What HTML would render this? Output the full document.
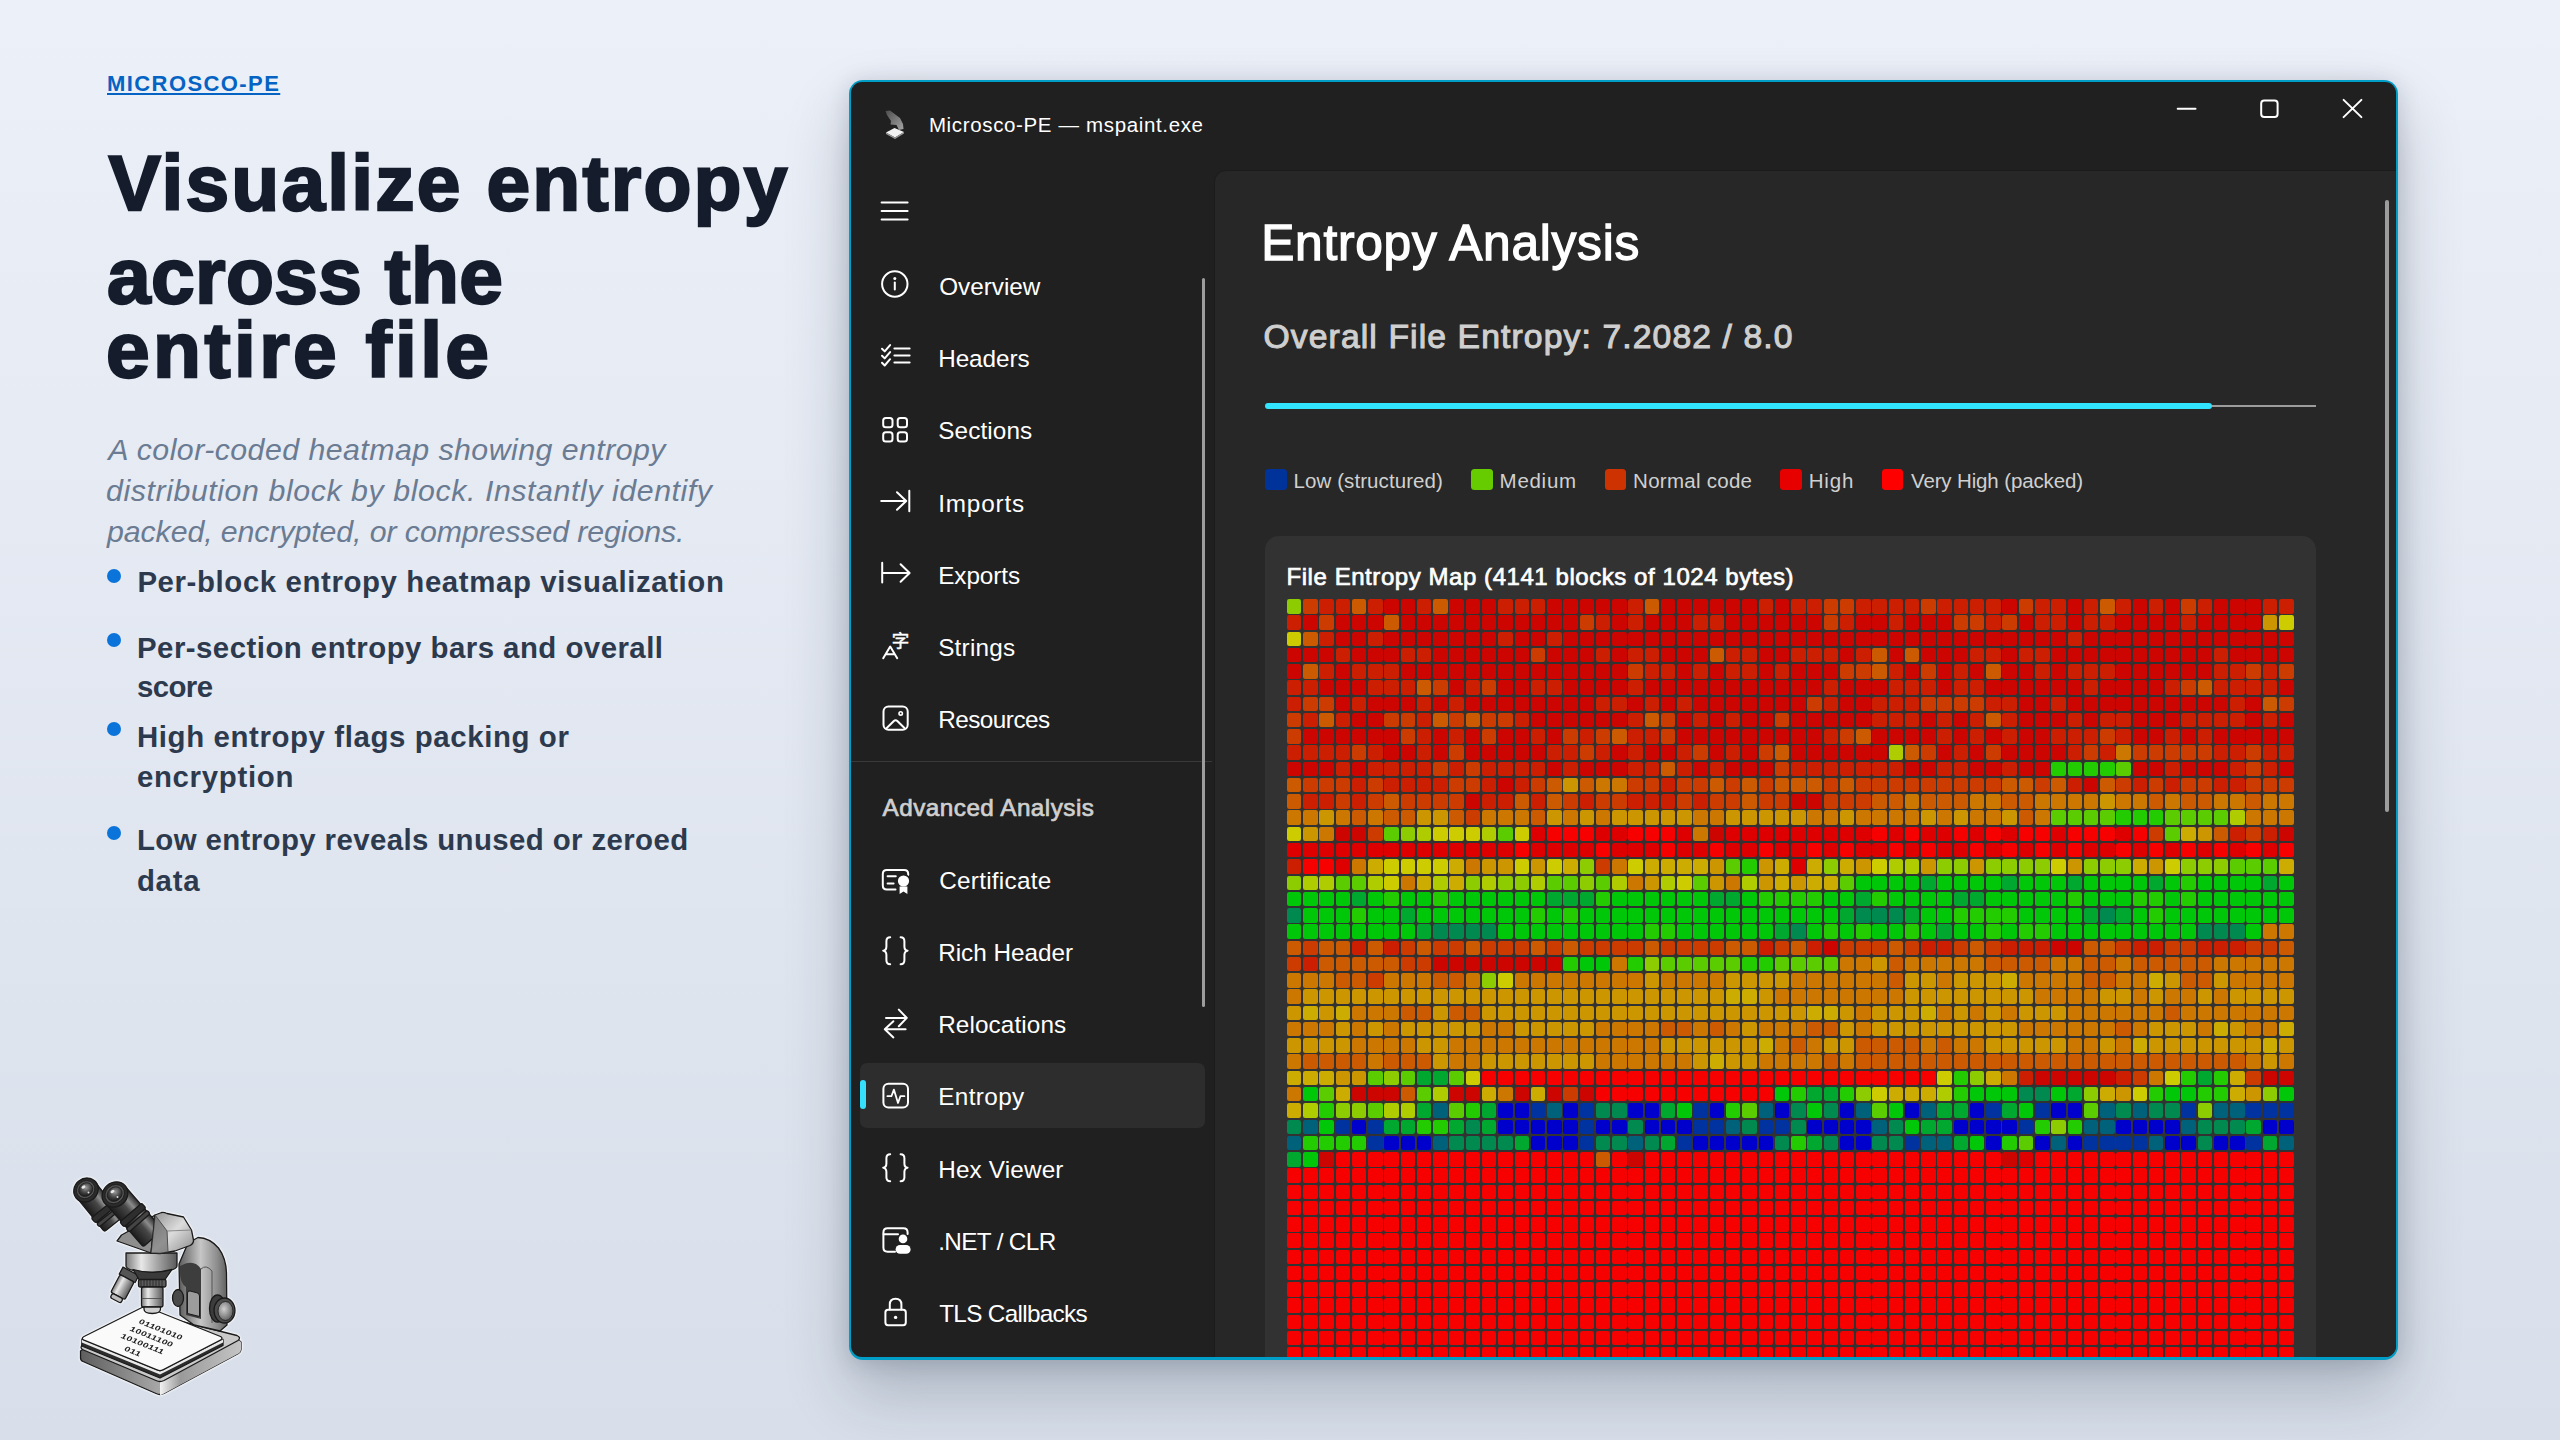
<!DOCTYPE html>
<html lang="en"><head><meta charset="utf-8"><title>Microsco-PE</title>
<style>
*{margin:0;padding:0;box-sizing:border-box}
html,body{width:2560px;height:1440px;overflow:hidden}
body{position:relative;font-family:"Liberation Sans",sans-serif;background:linear-gradient(180deg,#ecf0f8 0%,#d8dfea 100%)}
.t{position:absolute;white-space:nowrap}
.dot{position:absolute;width:14px;height:14px;border-radius:50%;background:#0a74da;left:106.7px}
#win{position:absolute;left:848.7px;top:79.8px;width:1549.5px;height:1280.3px;border-radius:14px;background:#009dc6;
 box-shadow:0 32px 64px rgba(25,38,58,.24),0 3px 22px rgba(25,38,58,.17)}
#wini{position:absolute;left:2.7px;top:2.7px;right:2.7px;bottom:2.7px;border-radius:11px;background:#202020;overflow:hidden}
#content{position:absolute;left:362.3px;top:87.5px;right:-20px;bottom:-20px;background:#272727;border:1px solid #1c1c1c;border-radius:12px 0 0 0}
#card{position:absolute;left:1265.2px;top:536.4px;width:1050.4px;height:900px;background:#323232;border-radius:14px}
#heat{position:absolute;left:1286.8px;top:599px;width:1010px;display:grid;grid-template-columns:repeat(62,14.5px);grid-auto-rows:14.5px;column-gap:1.77px;row-gap:1.77px}
#heat i{display:block;border-radius:2.2px}
#heat .hd{background:#cc0500}#heat .hr{background:#cc1e00}#heat .ho{background:#cc3c00}#heat .hO{background:#cc5a00}#heat .ha{background:#cc7800}#heat .hA{background:#cc9600}#heat .hZ{background:#ccac00}#heat .hY{background:#cccc00}#heat .hy{background:#afcc00}#heat .hL{background:#8ccc00}#heat .hl{background:#5acc00}#heat .hg{background:#23cc00}#heat .hG{background:#00c808}#heat .ht{background:#00a830}#heat .hT{background:#008a50}#heat .hc{background:#00627a}#heat .hb{background:#0032a0}#heat .hB{background:#0000cc}#heat .he{background:#de0000}#heat .hR{background:#f60000}
#clip{position:absolute;left:851.7px;top:82.8px;width:1543.5px;height:1274.3px;border-radius:11px;overflow:hidden}
.sw{position:absolute;top:469.3px;width:21.5px;height:21.2px;border-radius:3.5px}
.sel{position:absolute;left:859.5px;top:1062.9px;width:345px;height:64.9px;border-radius:7px;background:#2d2d2d}
.pill{position:absolute;left:859.7px;top:1080.4px;width:6px;height:29px;border-radius:3px;background:#35e0fc}
.sep{position:absolute;left:851px;top:760.5px;width:361px;height:1.6px;background:#393939}
.sb{position:absolute;width:3.4px;border-radius:2px;background:#9c9c9c}
.ic{position:absolute;left:879px;width:32px;height:32px;overflow:visible}
.ic *{vector-effect:none}
</style></head><body>
<div class="dot" style="top:569px"></div><div class="dot" style="top:633px"></div><div class="dot" style="top:722px"></div><div class="dot" style="top:826px"></div>
<div id="win"><div id="wini"><div id="content"></div></div></div>
<div class="sel"></div><div class="pill"></div><div class="sep"></div>
<div class="sb" style="left:1202px;top:278px;height:729px"></div>
<div class="sb" style="left:2385.4px;top:200.4px;height:612px"></div>
<div style="position:absolute;left:1265.2px;top:402.6px;width:947px;height:6.2px;border-radius:3.1px;background:#31e4ff"></div>
<div style="position:absolute;left:2212px;top:404.6px;width:103.7px;height:2px;background:#9c9c9c"></div>
<div class="sw" style="left:1265.2px;background:#003399"></div>
<div class="sw" style="left:1471px;background:#66cc00"></div>
<div class="sw" style="left:1604.6px;background:#cc3300"></div>
<div class="sw" style="left:1780.4px;background:#e60000"></div>
<div class="sw" style="left:1881.7px;background:#ff0000"></div>
<div id="clip"><div style="position:absolute;left:-851.7px;top:-82.8px;width:2560px;height:1440px"><div id="card"></div>
<div id="heat">
<i class="hL"></i><i class="ho"></i><i class="hr"></i><i class="hr"></i><i class="hO"></i><i class="hr"></i><i class="hd"></i><i class="hd"></i><i class="hr"></i><i class="hO"></i><i class="hd"></i><i class="hd"></i><i class="hd"></i><i class="hr"></i><i class="hr"></i><i class="hr"></i><i class="hd"></i><i class="hd"></i><i class="hd"></i><i class="hd"></i><i class="hd"></i><i class="hr"></i><i class="hO"></i><i class="hd"></i><i class="hd"></i><i class="hd"></i><i class="hd"></i><i class="hd"></i><i class="hd"></i><i class="hr"></i><i class="hd"></i><i class="hr"></i><i class="hr"></i><i class="ho"></i><i class="ho"></i><i class="hr"></i><i class="hr"></i><i class="hr"></i><i class="hr"></i><i class="ho"></i><i class="hr"></i><i class="hr"></i><i class="hr"></i><i class="hr"></i><i class="hd"></i><i class="ho"></i><i class="hr"></i><i class="hr"></i><i class="hd"></i><i class="hr"></i><i class="hO"></i><i class="hr"></i><i class="hd"></i><i class="hr"></i><i class="hd"></i><i class="ho"></i><i class="hr"></i><i class="hd"></i><i class="hd"></i><i class="hd"></i><i class="hr"></i><i class="hr"></i>
<i class="hr"></i><i class="hd"></i><i class="ho"></i><i class="hd"></i><i class="hd"></i><i class="hd"></i><i class="hO"></i><i class="hd"></i><i class="hd"></i><i class="hd"></i><i class="hd"></i><i class="hd"></i><i class="hd"></i><i class="hd"></i><i class="hd"></i><i class="hd"></i><i class="hd"></i><i class="hd"></i><i class="ho"></i><i class="hr"></i><i class="hd"></i><i class="hr"></i><i class="hd"></i><i class="hd"></i><i class="hd"></i><i class="hr"></i><i class="hr"></i><i class="hd"></i><i class="hd"></i><i class="hd"></i><i class="hd"></i><i class="hd"></i><i class="hd"></i><i class="ho"></i><i class="hr"></i><i class="hd"></i><i class="hd"></i><i class="hr"></i><i class="hd"></i><i class="hd"></i><i class="hd"></i><i class="ho"></i><i class="ho"></i><i class="hr"></i><i class="ho"></i><i class="hd"></i><i class="hr"></i><i class="hr"></i><i class="hd"></i><i class="hr"></i><i class="hr"></i><i class="hd"></i><i class="hd"></i><i class="hd"></i><i class="hd"></i><i class="hr"></i><i class="hd"></i><i class="hd"></i><i class="hd"></i><i class="hd"></i><i class="hA"></i><i class="hY"></i>
<i class="hY"></i><i class="hO"></i><i class="hr"></i><i class="hd"></i><i class="hd"></i><i class="hr"></i><i class="hd"></i><i class="hd"></i><i class="hd"></i><i class="hd"></i><i class="hd"></i><i class="hd"></i><i class="hd"></i><i class="hr"></i><i class="hd"></i><i class="hd"></i><i class="hr"></i><i class="hd"></i><i class="hd"></i><i class="hd"></i><i class="hd"></i><i class="hd"></i><i class="hd"></i><i class="hd"></i><i class="hd"></i><i class="hd"></i><i class="hd"></i><i class="hd"></i><i class="hd"></i><i class="hd"></i><i class="hd"></i><i class="hd"></i><i class="hd"></i><i class="hd"></i><i class="hd"></i><i class="hd"></i><i class="hd"></i><i class="hd"></i><i class="hd"></i><i class="hd"></i><i class="hd"></i><i class="hd"></i><i class="hd"></i><i class="hd"></i><i class="hd"></i><i class="hd"></i><i class="hd"></i><i class="hd"></i><i class="hr"></i><i class="hd"></i><i class="hd"></i><i class="hd"></i><i class="hd"></i><i class="hd"></i><i class="hd"></i><i class="hd"></i><i class="hd"></i><i class="hd"></i><i class="hd"></i><i class="hd"></i><i class="hd"></i><i class="hd"></i>
<i class="hd"></i><i class="hd"></i><i class="hd"></i><i class="hr"></i><i class="hd"></i><i class="hd"></i><i class="hd"></i><i class="hr"></i><i class="hr"></i><i class="hd"></i><i class="hd"></i><i class="hd"></i><i class="hd"></i><i class="hd"></i><i class="hd"></i><i class="ho"></i><i class="hd"></i><i class="hd"></i><i class="hd"></i><i class="hr"></i><i class="hd"></i><i class="hr"></i><i class="hr"></i><i class="hd"></i><i class="hd"></i><i class="hd"></i><i class="hO"></i><i class="hr"></i><i class="hr"></i><i class="hd"></i><i class="hd"></i><i class="hr"></i><i class="hr"></i><i class="hr"></i><i class="hd"></i><i class="hr"></i><i class="hO"></i><i class="hd"></i><i class="hO"></i><i class="hd"></i><i class="hd"></i><i class="hd"></i><i class="hr"></i><i class="hr"></i><i class="hd"></i><i class="hr"></i><i class="hr"></i><i class="hd"></i><i class="hd"></i><i class="hd"></i><i class="hd"></i><i class="hd"></i><i class="hd"></i><i class="hd"></i><i class="hd"></i><i class="hd"></i><i class="hd"></i><i class="hr"></i><i class="hd"></i><i class="hd"></i><i class="hd"></i><i class="hd"></i>
<i class="hd"></i><i class="hO"></i><i class="hr"></i><i class="hd"></i><i class="hr"></i><i class="hr"></i><i class="hr"></i><i class="hd"></i><i class="hd"></i><i class="hd"></i><i class="hd"></i><i class="hd"></i><i class="hd"></i><i class="hd"></i><i class="hd"></i><i class="hd"></i><i class="hd"></i><i class="hd"></i><i class="hd"></i><i class="hd"></i><i class="hd"></i><i class="ho"></i><i class="hr"></i><i class="hr"></i><i class="hd"></i><i class="hr"></i><i class="hd"></i><i class="hr"></i><i class="hr"></i><i class="hd"></i><i class="hr"></i><i class="hd"></i><i class="hd"></i><i class="hd"></i><i class="ho"></i><i class="ho"></i><i class="hO"></i><i class="hr"></i><i class="hd"></i><i class="ho"></i><i class="hd"></i><i class="hr"></i><i class="hd"></i><i class="hO"></i><i class="hd"></i><i class="hd"></i><i class="hr"></i><i class="hd"></i><i class="hr"></i><i class="hr"></i><i class="hr"></i><i class="hd"></i><i class="hd"></i><i class="hd"></i><i class="hd"></i><i class="hd"></i><i class="hd"></i><i class="hr"></i><i class="hr"></i><i class="ho"></i><i class="hr"></i><i class="ho"></i>
<i class="hr"></i><i class="hr"></i><i class="hd"></i><i class="hd"></i><i class="hd"></i><i class="hr"></i><i class="hr"></i><i class="hr"></i><i class="hO"></i><i class="ho"></i><i class="hd"></i><i class="hr"></i><i class="ho"></i><i class="hd"></i><i class="hd"></i><i class="hr"></i><i class="hr"></i><i class="hd"></i><i class="hd"></i><i class="hd"></i><i class="hd"></i><i class="hr"></i><i class="hd"></i><i class="hd"></i><i class="hd"></i><i class="hd"></i><i class="hd"></i><i class="hd"></i><i class="hd"></i><i class="hd"></i><i class="hd"></i><i class="hd"></i><i class="hd"></i><i class="hr"></i><i class="hd"></i><i class="hd"></i><i class="hd"></i><i class="hr"></i><i class="hr"></i><i class="hr"></i><i class="hd"></i><i class="hr"></i><i class="hr"></i><i class="hd"></i><i class="hd"></i><i class="hd"></i><i class="hd"></i><i class="hd"></i><i class="hd"></i><i class="hr"></i><i class="hd"></i><i class="hd"></i><i class="hd"></i><i class="hd"></i><i class="hr"></i><i class="ho"></i><i class="hO"></i><i class="hr"></i><i class="hr"></i><i class="hr"></i><i class="hr"></i><i class="hd"></i>
<i class="hr"></i><i class="ho"></i><i class="ho"></i><i class="hd"></i><i class="hr"></i><i class="hd"></i><i class="hd"></i><i class="hd"></i><i class="hr"></i><i class="hd"></i><i class="hr"></i><i class="hd"></i><i class="hd"></i><i class="hd"></i><i class="hd"></i><i class="hd"></i><i class="hd"></i><i class="hd"></i><i class="hd"></i><i class="hr"></i><i class="hr"></i><i class="hd"></i><i class="hr"></i><i class="hd"></i><i class="hr"></i><i class="hd"></i><i class="hd"></i><i class="hd"></i><i class="hd"></i><i class="hd"></i><i class="hd"></i><i class="hd"></i><i class="ho"></i><i class="hr"></i><i class="hd"></i><i class="hd"></i><i class="hr"></i><i class="hr"></i><i class="hr"></i><i class="ho"></i><i class="ho"></i><i class="ho"></i><i class="ho"></i><i class="hr"></i><i class="hr"></i><i class="hd"></i><i class="hd"></i><i class="hr"></i><i class="hd"></i><i class="hd"></i><i class="hd"></i><i class="hd"></i><i class="hd"></i><i class="hd"></i><i class="hd"></i><i class="hd"></i><i class="hd"></i><i class="hd"></i><i class="hr"></i><i class="hd"></i><i class="hO"></i><i class="ho"></i>
<i class="ho"></i><i class="hr"></i><i class="hO"></i><i class="hr"></i><i class="hd"></i><i class="hd"></i><i class="ho"></i><i class="ho"></i><i class="hr"></i><i class="hO"></i><i class="ho"></i><i class="hO"></i><i class="ho"></i><i class="ho"></i><i class="hr"></i><i class="hd"></i><i class="hd"></i><i class="hd"></i><i class="hd"></i><i class="hd"></i><i class="hd"></i><i class="hr"></i><i class="hO"></i><i class="ho"></i><i class="hd"></i><i class="hr"></i><i class="hd"></i><i class="hr"></i><i class="hd"></i><i class="hd"></i><i class="ho"></i><i class="hd"></i><i class="hd"></i><i class="hd"></i><i class="hd"></i><i class="hd"></i><i class="hr"></i><i class="hr"></i><i class="hr"></i><i class="hd"></i><i class="hr"></i><i class="hd"></i><i class="hr"></i><i class="hO"></i><i class="hr"></i><i class="hd"></i><i class="hd"></i><i class="hd"></i><i class="hr"></i><i class="hd"></i><i class="hr"></i><i class="hr"></i><i class="hd"></i><i class="hd"></i><i class="hd"></i><i class="hr"></i><i class="hr"></i><i class="hr"></i><i class="hr"></i><i class="hd"></i><i class="hr"></i><i class="hd"></i>
<i class="ho"></i><i class="hd"></i><i class="hd"></i><i class="hd"></i><i class="hd"></i><i class="hd"></i><i class="hd"></i><i class="ho"></i><i class="hr"></i><i class="hd"></i><i class="hr"></i><i class="hd"></i><i class="ho"></i><i class="hd"></i><i class="hd"></i><i class="hr"></i><i class="hd"></i><i class="ho"></i><i class="hr"></i><i class="ho"></i><i class="hO"></i><i class="hr"></i><i class="hr"></i><i class="ho"></i><i class="hd"></i><i class="hd"></i><i class="hd"></i><i class="hd"></i><i class="hd"></i><i class="hd"></i><i class="hd"></i><i class="hd"></i><i class="hd"></i><i class="hr"></i><i class="ho"></i><i class="hO"></i><i class="hd"></i><i class="hd"></i><i class="hd"></i><i class="hd"></i><i class="hr"></i><i class="hd"></i><i class="hr"></i><i class="hd"></i><i class="hr"></i><i class="hd"></i><i class="hd"></i><i class="hr"></i><i class="hr"></i><i class="hr"></i><i class="ho"></i><i class="hr"></i><i class="hd"></i><i class="hd"></i><i class="hr"></i><i class="hd"></i><i class="hr"></i><i class="hd"></i><i class="hd"></i><i class="hd"></i><i class="hd"></i><i class="hd"></i>
<i class="hr"></i><i class="hr"></i><i class="hr"></i><i class="hr"></i><i class="ho"></i><i class="hr"></i><i class="hd"></i><i class="hd"></i><i class="hr"></i><i class="hd"></i><i class="ho"></i><i class="hd"></i><i class="hd"></i><i class="hd"></i><i class="hd"></i><i class="hd"></i><i class="hr"></i><i class="hr"></i><i class="ho"></i><i class="hr"></i><i class="hd"></i><i class="hr"></i><i class="hd"></i><i class="hd"></i><i class="hr"></i><i class="ho"></i><i class="hd"></i><i class="hr"></i><i class="hd"></i><i class="ho"></i><i class="hO"></i><i class="hd"></i><i class="hd"></i><i class="hd"></i><i class="hd"></i><i class="hd"></i><i class="hd"></i><i class="hy"></i><i class="hO"></i><i class="ho"></i><i class="hd"></i><i class="hr"></i><i class="hd"></i><i class="ho"></i><i class="hd"></i><i class="hd"></i><i class="hd"></i><i class="hd"></i><i class="hr"></i><i class="ho"></i><i class="hr"></i><i class="ha"></i><i class="ho"></i><i class="ho"></i><i class="ho"></i><i class="ho"></i><i class="ho"></i><i class="hr"></i><i class="hr"></i><i class="ho"></i><i class="hr"></i><i class="hr"></i>
<i class="hd"></i><i class="hd"></i><i class="hd"></i><i class="hr"></i><i class="hd"></i><i class="hr"></i><i class="hr"></i><i class="hr"></i><i class="hr"></i><i class="ho"></i><i class="hr"></i><i class="ho"></i><i class="hr"></i><i class="hr"></i><i class="hr"></i><i class="hr"></i><i class="hd"></i><i class="hr"></i><i class="hd"></i><i class="hd"></i><i class="hd"></i><i class="hr"></i><i class="hr"></i><i class="hO"></i><i class="hr"></i><i class="hd"></i><i class="hr"></i><i class="hd"></i><i class="hd"></i><i class="hd"></i><i class="ho"></i><i class="hr"></i><i class="hr"></i><i class="hr"></i><i class="hr"></i><i class="hr"></i><i class="hr"></i><i class="hr"></i><i class="hd"></i><i class="hd"></i><i class="hr"></i><i class="hr"></i><i class="hd"></i><i class="hd"></i><i class="hr"></i><i class="hd"></i><i class="hd"></i><i class="hg"></i><i class="hg"></i><i class="hg"></i><i class="hg"></i><i class="hl"></i><i class="hd"></i><i class="hd"></i><i class="hr"></i><i class="hd"></i><i class="hd"></i><i class="hd"></i><i class="hr"></i><i class="ho"></i><i class="hr"></i><i class="hd"></i>
<i class="hO"></i><i class="ho"></i><i class="ho"></i><i class="ho"></i><i class="hr"></i><i class="ho"></i><i class="hr"></i><i class="hr"></i><i class="hr"></i><i class="hr"></i><i class="ho"></i><i class="ho"></i><i class="hr"></i><i class="hd"></i><i class="hr"></i><i class="ho"></i><i class="hO"></i><i class="hA"></i><i class="hO"></i><i class="ha"></i><i class="ha"></i><i class="ho"></i><i class="ho"></i><i class="hr"></i><i class="ho"></i><i class="ho"></i><i class="hO"></i><i class="ho"></i><i class="hO"></i><i class="ho"></i><i class="hO"></i><i class="hO"></i><i class="hO"></i><i class="ho"></i><i class="hO"></i><i class="ho"></i><i class="ho"></i><i class="ho"></i><i class="ho"></i><i class="ho"></i><i class="ho"></i><i class="ho"></i><i class="ho"></i><i class="ho"></i><i class="hO"></i><i class="hO"></i><i class="ho"></i><i class="hO"></i><i class="hr"></i><i class="hd"></i><i class="hO"></i><i class="ho"></i><i class="hr"></i><i class="ho"></i><i class="hr"></i><i class="ho"></i><i class="ho"></i><i class="hr"></i><i class="hr"></i><i class="ho"></i><i class="ho"></i><i class="ho"></i>
<i class="hO"></i><i class="hr"></i><i class="hr"></i><i class="ho"></i><i class="hr"></i><i class="ho"></i><i class="hO"></i><i class="ho"></i><i class="ho"></i><i class="ho"></i><i class="ho"></i><i class="hd"></i><i class="hr"></i><i class="hr"></i><i class="hO"></i><i class="hr"></i><i class="hO"></i><i class="ho"></i><i class="hr"></i><i class="ho"></i><i class="ho"></i><i class="hr"></i><i class="hr"></i><i class="hr"></i><i class="ho"></i><i class="hr"></i><i class="ho"></i><i class="ho"></i><i class="hO"></i><i class="ho"></i><i class="ho"></i><i class="hd"></i><i class="hd"></i><i class="ho"></i><i class="ho"></i><i class="ho"></i><i class="hO"></i><i class="hO"></i><i class="ha"></i><i class="hO"></i><i class="hO"></i><i class="hO"></i><i class="ha"></i><i class="ha"></i><i class="hO"></i><i class="hO"></i><i class="ha"></i><i class="ha"></i><i class="ha"></i><i class="ha"></i><i class="hA"></i><i class="ha"></i><i class="ha"></i><i class="hO"></i><i class="ha"></i><i class="hO"></i><i class="hO"></i><i class="ha"></i><i class="ha"></i><i class="hO"></i><i class="ha"></i><i class="ha"></i>
<i class="ha"></i><i class="ha"></i><i class="hA"></i><i class="ha"></i><i class="hO"></i><i class="ha"></i><i class="hO"></i><i class="hO"></i><i class="hA"></i><i class="hA"></i><i class="hO"></i><i class="ho"></i><i class="ha"></i><i class="ha"></i><i class="ha"></i><i class="hO"></i><i class="hA"></i><i class="ha"></i><i class="hA"></i><i class="ha"></i><i class="hA"></i><i class="hA"></i><i class="hA"></i><i class="hA"></i><i class="hA"></i><i class="ha"></i><i class="ha"></i><i class="hA"></i><i class="hA"></i><i class="hA"></i><i class="hA"></i><i class="hA"></i><i class="ha"></i><i class="ha"></i><i class="hA"></i><i class="ha"></i><i class="ha"></i><i class="ha"></i><i class="ha"></i><i class="hA"></i><i class="ha"></i><i class="hA"></i><i class="ha"></i><i class="ha"></i><i class="hA"></i><i class="hO"></i><i class="ha"></i><i class="hl"></i><i class="hl"></i><i class="hl"></i><i class="hl"></i><i class="hg"></i><i class="hg"></i><i class="hg"></i><i class="hl"></i><i class="hl"></i><i class="hl"></i><i class="hl"></i><i class="hy"></i><i class="ha"></i><i class="ha"></i><i class="ha"></i>
<i class="hY"></i><i class="hA"></i><i class="ha"></i><i class="hd"></i><i class="hd"></i><i class="ho"></i><i class="hl"></i><i class="hL"></i><i class="hy"></i><i class="hY"></i><i class="hY"></i><i class="hY"></i><i class="hy"></i><i class="hl"></i><i class="hY"></i><i class="he"></i><i class="hR"></i><i class="hR"></i><i class="hR"></i><i class="he"></i><i class="he"></i><i class="hR"></i><i class="hR"></i><i class="hR"></i><i class="he"></i><i class="ha"></i><i class="hd"></i><i class="he"></i><i class="he"></i><i class="he"></i><i class="he"></i><i class="he"></i><i class="he"></i><i class="he"></i><i class="he"></i><i class="he"></i><i class="hR"></i><i class="he"></i><i class="hR"></i><i class="he"></i><i class="he"></i><i class="hR"></i><i class="he"></i><i class="hR"></i><i class="he"></i><i class="hR"></i><i class="hR"></i><i class="he"></i><i class="hR"></i><i class="hR"></i><i class="hR"></i><i class="he"></i><i class="hR"></i><i class="ho"></i><i class="hl"></i><i class="hZ"></i><i class="hA"></i><i class="hO"></i><i class="hr"></i><i class="ho"></i><i class="hr"></i><i class="hd"></i>
<i class="he"></i><i class="he"></i><i class="he"></i><i class="he"></i><i class="he"></i><i class="he"></i><i class="he"></i><i class="he"></i><i class="he"></i><i class="he"></i><i class="he"></i><i class="he"></i><i class="he"></i><i class="he"></i><i class="hR"></i><i class="he"></i><i class="he"></i><i class="he"></i><i class="he"></i><i class="hR"></i><i class="he"></i><i class="he"></i><i class="he"></i><i class="hR"></i><i class="he"></i><i class="he"></i><i class="hR"></i><i class="he"></i><i class="he"></i><i class="hR"></i><i class="he"></i><i class="he"></i><i class="hR"></i><i class="he"></i><i class="hR"></i><i class="he"></i><i class="he"></i><i class="hR"></i><i class="he"></i><i class="hR"></i><i class="he"></i><i class="he"></i><i class="hR"></i><i class="he"></i><i class="hR"></i><i class="he"></i><i class="hR"></i><i class="he"></i><i class="hR"></i><i class="he"></i><i class="he"></i><i class="hR"></i><i class="he"></i><i class="hR"></i><i class="he"></i><i class="hR"></i><i class="he"></i><i class="hR"></i><i class="he"></i><i class="hR"></i><i class="he"></i><i class="hR"></i>
<i class="hr"></i><i class="hR"></i><i class="hR"></i><i class="he"></i><i class="ha"></i><i class="hZ"></i><i class="hY"></i><i class="hY"></i><i class="hY"></i><i class="hY"></i><i class="hZ"></i><i class="ha"></i><i class="hA"></i><i class="hA"></i><i class="hY"></i><i class="hA"></i><i class="hY"></i><i class="hZ"></i><i class="hL"></i><i class="ho"></i><i class="ha"></i><i class="hY"></i><i class="hZ"></i><i class="hZ"></i><i class="hZ"></i><i class="hZ"></i><i class="hA"></i><i class="hl"></i><i class="hg"></i><i class="hA"></i><i class="hZ"></i><i class="he"></i><i class="hZ"></i><i class="hL"></i><i class="hZ"></i><i class="hA"></i><i class="hY"></i><i class="hy"></i><i class="hy"></i><i class="hA"></i><i class="hL"></i><i class="hL"></i><i class="hA"></i><i class="hL"></i><i class="hL"></i><i class="hL"></i><i class="hL"></i><i class="hY"></i><i class="hA"></i><i class="hL"></i><i class="hL"></i><i class="hL"></i><i class="hZ"></i><i class="hA"></i><i class="hY"></i><i class="hL"></i><i class="hL"></i><i class="hL"></i><i class="hl"></i><i class="hl"></i><i class="hl"></i><i class="hZ"></i>
<i class="hL"></i><i class="hy"></i><i class="hy"></i><i class="hl"></i><i class="hl"></i><i class="hy"></i><i class="hY"></i><i class="ha"></i><i class="hZ"></i><i class="hy"></i><i class="hZ"></i><i class="hL"></i><i class="hy"></i><i class="hL"></i><i class="hL"></i><i class="hy"></i><i class="hl"></i><i class="hl"></i><i class="hL"></i><i class="hl"></i><i class="hy"></i><i class="ha"></i><i class="hA"></i><i class="hy"></i><i class="hY"></i><i class="hl"></i><i class="hA"></i><i class="ha"></i><i class="hy"></i><i class="hA"></i><i class="hZ"></i><i class="hA"></i><i class="hZ"></i><i class="hZ"></i><i class="hl"></i><i class="hG"></i><i class="hG"></i><i class="hG"></i><i class="hG"></i><i class="ht"></i><i class="hG"></i><i class="hG"></i><i class="hG"></i><i class="hG"></i><i class="ht"></i><i class="hG"></i><i class="hG"></i><i class="hG"></i><i class="ht"></i><i class="hG"></i><i class="hG"></i><i class="hG"></i><i class="hG"></i><i class="ht"></i><i class="hG"></i><i class="hg"></i><i class="hG"></i><i class="hG"></i><i class="hG"></i><i class="hG"></i><i class="ht"></i><i class="hG"></i>
<i class="hG"></i><i class="hG"></i><i class="hG"></i><i class="hG"></i><i class="ht"></i><i class="hG"></i><i class="hg"></i><i class="hG"></i><i class="hG"></i><i class="hg"></i><i class="hG"></i><i class="hG"></i><i class="hG"></i><i class="hG"></i><i class="hG"></i><i class="hG"></i><i class="ht"></i><i class="ht"></i><i class="ht"></i><i class="hg"></i><i class="hG"></i><i class="hG"></i><i class="hG"></i><i class="hG"></i><i class="hG"></i><i class="hG"></i><i class="ht"></i><i class="ht"></i><i class="hG"></i><i class="hg"></i><i class="hg"></i><i class="hg"></i><i class="hg"></i><i class="hG"></i><i class="hG"></i><i class="ht"></i><i class="hg"></i><i class="hG"></i><i class="hG"></i><i class="hG"></i><i class="hG"></i><i class="ht"></i><i class="ht"></i><i class="hG"></i><i class="hG"></i><i class="hG"></i><i class="hG"></i><i class="hG"></i><i class="hg"></i><i class="hG"></i><i class="hG"></i><i class="hG"></i><i class="hg"></i><i class="hg"></i><i class="hG"></i><i class="hg"></i><i class="hG"></i><i class="hG"></i><i class="hG"></i><i class="hG"></i><i class="hG"></i><i class="hG"></i>
<i class="hT"></i><i class="hG"></i><i class="hG"></i><i class="hG"></i><i class="hg"></i><i class="hG"></i><i class="hG"></i><i class="ht"></i><i class="hG"></i><i class="hG"></i><i class="hG"></i><i class="hG"></i><i class="hG"></i><i class="hG"></i><i class="hG"></i><i class="hg"></i><i class="hG"></i><i class="hg"></i><i class="hG"></i><i class="hG"></i><i class="hG"></i><i class="hG"></i><i class="hG"></i><i class="hG"></i><i class="hG"></i><i class="hG"></i><i class="hG"></i><i class="hG"></i><i class="hG"></i><i class="hG"></i><i class="hG"></i><i class="hG"></i><i class="hG"></i><i class="hG"></i><i class="ht"></i><i class="hT"></i><i class="hT"></i><i class="hT"></i><i class="ht"></i><i class="hG"></i><i class="hG"></i><i class="hg"></i><i class="hg"></i><i class="hg"></i><i class="hg"></i><i class="hG"></i><i class="hG"></i><i class="hG"></i><i class="hG"></i><i class="ht"></i><i class="hT"></i><i class="ht"></i><i class="hG"></i><i class="hg"></i><i class="hG"></i><i class="hG"></i><i class="hG"></i><i class="hG"></i><i class="hG"></i><i class="hG"></i><i class="hG"></i><i class="hG"></i>
<i class="hG"></i><i class="hG"></i><i class="hG"></i><i class="hG"></i><i class="hG"></i><i class="hG"></i><i class="hG"></i><i class="hG"></i><i class="ht"></i><i class="hT"></i><i class="hT"></i><i class="hT"></i><i class="hT"></i><i class="hG"></i><i class="hG"></i><i class="hG"></i><i class="hG"></i><i class="hG"></i><i class="hG"></i><i class="hG"></i><i class="hG"></i><i class="hG"></i><i class="hg"></i><i class="hg"></i><i class="hG"></i><i class="hG"></i><i class="hG"></i><i class="hG"></i><i class="hG"></i><i class="hG"></i><i class="ht"></i><i class="hT"></i><i class="hG"></i><i class="hg"></i><i class="hG"></i><i class="hg"></i><i class="hG"></i><i class="hG"></i><i class="hg"></i><i class="hG"></i><i class="ht"></i><i class="hG"></i><i class="hG"></i><i class="hg"></i><i class="hG"></i><i class="hg"></i><i class="hg"></i><i class="hG"></i><i class="hG"></i><i class="hG"></i><i class="hG"></i><i class="hG"></i><i class="hG"></i><i class="hG"></i><i class="hG"></i><i class="hG"></i><i class="hT"></i><i class="hT"></i><i class="hT"></i><i class="hG"></i><i class="ha"></i><i class="ha"></i>
<i class="hO"></i><i class="ho"></i><i class="hO"></i><i class="hO"></i><i class="hr"></i><i class="hO"></i><i class="hr"></i><i class="ho"></i><i class="hO"></i><i class="ho"></i><i class="ho"></i><i class="hO"></i><i class="ho"></i><i class="ho"></i><i class="ho"></i><i class="hO"></i><i class="ho"></i><i class="hO"></i><i class="ho"></i><i class="ho"></i><i class="ho"></i><i class="ho"></i><i class="hO"></i><i class="ho"></i><i class="ho"></i><i class="ho"></i><i class="ho"></i><i class="hO"></i><i class="hO"></i><i class="hr"></i><i class="ho"></i><i class="hO"></i><i class="hr"></i><i class="hd"></i><i class="ho"></i><i class="ho"></i><i class="ho"></i><i class="hO"></i><i class="ho"></i><i class="hr"></i><i class="hr"></i><i class="ho"></i><i class="hO"></i><i class="ho"></i><i class="hr"></i><i class="hr"></i><i class="hr"></i><i class="hd"></i><i class="hd"></i><i class="hO"></i><i class="hO"></i><i class="ho"></i><i class="hr"></i><i class="hr"></i><i class="ho"></i><i class="ho"></i><i class="hr"></i><i class="hr"></i><i class="hr"></i><i class="ho"></i><i class="ho"></i><i class="hO"></i>
<i class="ho"></i><i class="hr"></i><i class="hO"></i><i class="hO"></i><i class="hO"></i><i class="hO"></i><i class="hO"></i><i class="ho"></i><i class="ho"></i><i class="hd"></i><i class="hd"></i><i class="hd"></i><i class="hd"></i><i class="hd"></i><i class="hd"></i><i class="hd"></i><i class="hd"></i><i class="hg"></i><i class="hG"></i><i class="hG"></i><i class="ha"></i><i class="hg"></i><i class="hL"></i><i class="hl"></i><i class="hl"></i><i class="hl"></i><i class="hl"></i><i class="hl"></i><i class="hg"></i><i class="hg"></i><i class="hl"></i><i class="hl"></i><i class="hl"></i><i class="hl"></i><i class="ha"></i><i class="ha"></i><i class="hA"></i><i class="hO"></i><i class="ha"></i><i class="ha"></i><i class="ha"></i><i class="ha"></i><i class="ha"></i><i class="hO"></i><i class="hO"></i><i class="hO"></i><i class="hO"></i><i class="ha"></i><i class="ha"></i><i class="hO"></i><i class="hO"></i><i class="ha"></i><i class="hO"></i><i class="hO"></i><i class="hO"></i><i class="hO"></i><i class="hO"></i><i class="ha"></i><i class="ha"></i><i class="ha"></i><i class="ha"></i><i class="ha"></i>
<i class="ha"></i><i class="ha"></i><i class="ha"></i><i class="hO"></i><i class="hO"></i><i class="ho"></i><i class="ha"></i><i class="ha"></i><i class="ha"></i><i class="hO"></i><i class="hO"></i><i class="ha"></i><i class="hL"></i><i class="hY"></i><i class="ha"></i><i class="ha"></i><i class="ha"></i><i class="ha"></i><i class="ha"></i><i class="ha"></i><i class="ha"></i><i class="ha"></i><i class="hA"></i><i class="ha"></i><i class="ha"></i><i class="ha"></i><i class="ha"></i><i class="hA"></i><i class="hA"></i><i class="hA"></i><i class="hA"></i><i class="ha"></i><i class="ha"></i><i class="ha"></i><i class="ha"></i><i class="ha"></i><i class="ha"></i><i class="hO"></i><i class="hA"></i><i class="hA"></i><i class="ha"></i><i class="hA"></i><i class="hA"></i><i class="hA"></i><i class="hZ"></i><i class="ha"></i><i class="ha"></i><i class="ha"></i><i class="ha"></i><i class="hO"></i><i class="hO"></i><i class="ha"></i><i class="ha"></i><i class="hZ"></i><i class="hA"></i><i class="hO"></i><i class="hO"></i><i class="hA"></i><i class="ha"></i><i class="ha"></i><i class="ha"></i><i class="ha"></i>
<i class="ha"></i><i class="hA"></i><i class="hA"></i><i class="hA"></i><i class="hA"></i><i class="hA"></i><i class="hA"></i><i class="hA"></i><i class="hA"></i><i class="hA"></i><i class="hA"></i><i class="hA"></i><i class="hA"></i><i class="hA"></i><i class="hA"></i><i class="hA"></i><i class="hA"></i><i class="hA"></i><i class="hA"></i><i class="hA"></i><i class="hA"></i><i class="hA"></i><i class="hA"></i><i class="hA"></i><i class="hA"></i><i class="hA"></i><i class="hA"></i><i class="hZ"></i><i class="hZ"></i><i class="hA"></i><i class="ha"></i><i class="ha"></i><i class="ha"></i><i class="ha"></i><i class="ha"></i><i class="ha"></i><i class="ha"></i><i class="ha"></i><i class="hA"></i><i class="hA"></i><i class="hA"></i><i class="hA"></i><i class="hA"></i><i class="hA"></i><i class="hA"></i><i class="hA"></i><i class="ha"></i><i class="ha"></i><i class="ha"></i><i class="ha"></i><i class="hA"></i><i class="hA"></i><i class="ha"></i><i class="hA"></i><i class="ha"></i><i class="ha"></i><i class="hA"></i><i class="ha"></i><i class="hA"></i><i class="hA"></i><i class="hA"></i><i class="hA"></i>
<i class="hA"></i><i class="hZ"></i><i class="hA"></i><i class="hZ"></i><i class="ha"></i><i class="ha"></i><i class="ha"></i><i class="hO"></i><i class="hO"></i><i class="hA"></i><i class="hO"></i><i class="hO"></i><i class="hA"></i><i class="hA"></i><i class="hA"></i><i class="hA"></i><i class="hA"></i><i class="hA"></i><i class="hA"></i><i class="hA"></i><i class="hA"></i><i class="hA"></i><i class="hA"></i><i class="hA"></i><i class="hA"></i><i class="hA"></i><i class="hA"></i><i class="hA"></i><i class="hA"></i><i class="hA"></i><i class="hA"></i><i class="hA"></i><i class="hZ"></i><i class="hZ"></i><i class="hA"></i><i class="ha"></i><i class="hA"></i><i class="hA"></i><i class="hA"></i><i class="hZ"></i><i class="ha"></i><i class="hA"></i><i class="ha"></i><i class="hA"></i><i class="ha"></i><i class="hA"></i><i class="hA"></i><i class="hA"></i><i class="ha"></i><i class="ha"></i><i class="ha"></i><i class="ha"></i><i class="ha"></i><i class="ha"></i><i class="hO"></i><i class="ha"></i><i class="ha"></i><i class="ha"></i><i class="ha"></i><i class="ha"></i><i class="ha"></i><i class="ha"></i>
<i class="ha"></i><i class="ha"></i><i class="ha"></i><i class="hA"></i><i class="ha"></i><i class="hA"></i><i class="ha"></i><i class="hA"></i><i class="hA"></i><i class="hA"></i><i class="hA"></i><i class="hA"></i><i class="ha"></i><i class="ha"></i><i class="hA"></i><i class="hA"></i><i class="hA"></i><i class="hA"></i><i class="hA"></i><i class="ha"></i><i class="ha"></i><i class="ha"></i><i class="ha"></i><i class="hO"></i><i class="hO"></i><i class="ha"></i><i class="hO"></i><i class="ha"></i><i class="hA"></i><i class="ha"></i><i class="ha"></i><i class="ha"></i><i class="hO"></i><i class="hO"></i><i class="hA"></i><i class="ha"></i><i class="hA"></i><i class="hA"></i><i class="hA"></i><i class="hA"></i><i class="hA"></i><i class="hA"></i><i class="hA"></i><i class="hA"></i><i class="hA"></i><i class="ha"></i><i class="ha"></i><i class="ha"></i><i class="ha"></i><i class="ha"></i><i class="ha"></i><i class="hO"></i><i class="ha"></i><i class="hA"></i><i class="hA"></i><i class="hA"></i><i class="ha"></i><i class="hZ"></i><i class="hA"></i><i class="ha"></i><i class="ha"></i><i class="hZ"></i>
<i class="hA"></i><i class="hA"></i><i class="hA"></i><i class="hA"></i><i class="ha"></i><i class="ha"></i><i class="ha"></i><i class="ha"></i><i class="hA"></i><i class="hA"></i><i class="ha"></i><i class="ha"></i><i class="ha"></i><i class="ha"></i><i class="ha"></i><i class="ha"></i><i class="ha"></i><i class="ha"></i><i class="ha"></i><i class="ha"></i><i class="ha"></i><i class="ha"></i><i class="ha"></i><i class="hA"></i><i class="hA"></i><i class="hA"></i><i class="hA"></i><i class="hA"></i><i class="hA"></i><i class="hZ"></i><i class="ha"></i><i class="hO"></i><i class="ha"></i><i class="hA"></i><i class="hA"></i><i class="hO"></i><i class="hO"></i><i class="hO"></i><i class="hO"></i><i class="ha"></i><i class="hO"></i><i class="ha"></i><i class="ha"></i><i class="hA"></i><i class="hA"></i><i class="hA"></i><i class="hA"></i><i class="hA"></i><i class="ha"></i><i class="ha"></i><i class="hA"></i><i class="ha"></i><i class="hZ"></i><i class="hA"></i><i class="hA"></i><i class="hA"></i><i class="hA"></i><i class="hA"></i><i class="hA"></i><i class="hA"></i><i class="hZ"></i><i class="hA"></i>
<i class="ha"></i><i class="hO"></i><i class="hO"></i><i class="hO"></i><i class="hO"></i><i class="ha"></i><i class="hO"></i><i class="hO"></i><i class="hO"></i><i class="hA"></i><i class="ha"></i><i class="ha"></i><i class="hA"></i><i class="hA"></i><i class="hA"></i><i class="hA"></i><i class="hA"></i><i class="hA"></i><i class="hA"></i><i class="ha"></i><i class="ha"></i><i class="ha"></i><i class="ha"></i><i class="ha"></i><i class="ha"></i><i class="hA"></i><i class="hZ"></i><i class="hA"></i><i class="hA"></i><i class="ha"></i><i class="ha"></i><i class="ha"></i><i class="ha"></i><i class="hO"></i><i class="ha"></i><i class="hO"></i><i class="hO"></i><i class="hO"></i><i class="hO"></i><i class="hO"></i><i class="hO"></i><i class="hO"></i><i class="hO"></i><i class="hO"></i><i class="hO"></i><i class="hO"></i><i class="hO"></i><i class="hO"></i><i class="hO"></i><i class="hO"></i><i class="hO"></i><i class="hO"></i><i class="hO"></i><i class="hO"></i><i class="hO"></i><i class="hO"></i><i class="hO"></i><i class="hO"></i><i class="hO"></i><i class="ha"></i><i class="hA"></i><i class="ha"></i>
<i class="hZ"></i><i class="hZ"></i><i class="hZ"></i><i class="hA"></i><i class="hA"></i><i class="hl"></i><i class="hL"></i><i class="hl"></i><i class="ht"></i><i class="ht"></i><i class="hl"></i><i class="hY"></i><i class="hR"></i><i class="hR"></i><i class="hR"></i><i class="hR"></i><i class="hR"></i><i class="hR"></i><i class="hR"></i><i class="hR"></i><i class="hR"></i><i class="hR"></i><i class="hR"></i><i class="hR"></i><i class="hR"></i><i class="hR"></i><i class="hR"></i><i class="hR"></i><i class="hR"></i><i class="hR"></i><i class="hR"></i><i class="hR"></i><i class="hR"></i><i class="hR"></i><i class="hR"></i><i class="hR"></i><i class="hR"></i><i class="hR"></i><i class="hR"></i><i class="hR"></i><i class="hY"></i><i class="hg"></i><i class="hL"></i><i class="hZ"></i><i class="ha"></i><i class="hr"></i><i class="hd"></i><i class="hd"></i><i class="hd"></i><i class="hd"></i><i class="hd"></i><i class="hr"></i><i class="ho"></i><i class="ha"></i><i class="hY"></i><i class="hg"></i><i class="ht"></i><i class="hg"></i><i class="hZ"></i><i class="ho"></i><i class="hd"></i><i class="hd"></i>
<i class="ha"></i><i class="hG"></i><i class="hl"></i><i class="hZ"></i><i class="hd"></i><i class="hd"></i><i class="hd"></i><i class="hO"></i><i class="hl"></i><i class="hy"></i><i class="hd"></i><i class="hd"></i><i class="hZ"></i><i class="ha"></i><i class="hd"></i><i class="hZ"></i><i class="hd"></i><i class="ho"></i><i class="hd"></i><i class="hR"></i><i class="hR"></i><i class="hR"></i><i class="hR"></i><i class="hR"></i><i class="hR"></i><i class="hR"></i><i class="hR"></i><i class="hR"></i><i class="hR"></i><i class="hR"></i><i class="hG"></i><i class="hg"></i><i class="ht"></i><i class="ht"></i><i class="hg"></i><i class="hL"></i><i class="hY"></i><i class="hZ"></i><i class="hZ"></i><i class="hZ"></i><i class="hy"></i><i class="hg"></i><i class="hG"></i><i class="hG"></i><i class="hG"></i><i class="hT"></i><i class="hT"></i><i class="hG"></i><i class="ht"></i><i class="hL"></i><i class="hZ"></i><i class="hA"></i><i class="hY"></i><i class="hg"></i><i class="hG"></i><i class="hG"></i><i class="hg"></i><i class="hg"></i><i class="hZ"></i><i class="hA"></i><i class="hL"></i><i class="hG"></i>
<i class="hZ"></i><i class="hy"></i><i class="hg"></i><i class="hL"></i><i class="hL"></i><i class="hl"></i><i class="hy"></i><i class="hy"></i><i class="ht"></i><i class="hc"></i><i class="hl"></i><i class="hg"></i><i class="ht"></i><i class="hB"></i><i class="hB"></i><i class="hb"></i><i class="hc"></i><i class="hB"></i><i class="hb"></i><i class="hT"></i><i class="hT"></i><i class="hB"></i><i class="hB"></i><i class="ht"></i><i class="hG"></i><i class="hb"></i><i class="hB"></i><i class="hg"></i><i class="hl"></i><i class="hc"></i><i class="hB"></i><i class="hT"></i><i class="hG"></i><i class="hT"></i><i class="hB"></i><i class="hc"></i><i class="hl"></i><i class="hG"></i><i class="hB"></i><i class="hc"></i><i class="ht"></i><i class="ht"></i><i class="hB"></i><i class="hb"></i><i class="ht"></i><i class="hG"></i><i class="hb"></i><i class="hB"></i><i class="hB"></i><i class="hl"></i><i class="hc"></i><i class="hT"></i><i class="hc"></i><i class="hT"></i><i class="hT"></i><i class="hb"></i><i class="hL"></i><i class="hc"></i><i class="hc"></i><i class="hb"></i><i class="hb"></i><i class="hb"></i>
<i class="hT"></i><i class="hc"></i><i class="hG"></i><i class="hb"></i><i class="hB"></i><i class="hb"></i><i class="ht"></i><i class="ht"></i><i class="hg"></i><i class="hg"></i><i class="ht"></i><i class="hT"></i><i class="ht"></i><i class="hB"></i><i class="hB"></i><i class="hB"></i><i class="hB"></i><i class="hB"></i><i class="hb"></i><i class="hB"></i><i class="hB"></i><i class="hT"></i><i class="hB"></i><i class="hB"></i><i class="hB"></i><i class="hb"></i><i class="hb"></i><i class="hc"></i><i class="hT"></i><i class="hb"></i><i class="hb"></i><i class="hT"></i><i class="hB"></i><i class="hB"></i><i class="hB"></i><i class="hB"></i><i class="hc"></i><i class="hT"></i><i class="hG"></i><i class="ht"></i><i class="ht"></i><i class="hB"></i><i class="hB"></i><i class="hB"></i><i class="hB"></i><i class="hb"></i><i class="hg"></i><i class="hL"></i><i class="hg"></i><i class="hc"></i><i class="hc"></i><i class="hB"></i><i class="hB"></i><i class="hB"></i><i class="hB"></i><i class="hc"></i><i class="hT"></i><i class="hT"></i><i class="hT"></i><i class="ht"></i><i class="hB"></i><i class="hB"></i>
<i class="hc"></i><i class="hg"></i><i class="hg"></i><i class="hg"></i><i class="hg"></i><i class="hb"></i><i class="hB"></i><i class="hB"></i><i class="hB"></i><i class="hc"></i><i class="hT"></i><i class="hT"></i><i class="hT"></i><i class="hT"></i><i class="ht"></i><i class="hB"></i><i class="hB"></i><i class="hB"></i><i class="hb"></i><i class="hT"></i><i class="hT"></i><i class="hc"></i><i class="hT"></i><i class="ht"></i><i class="hb"></i><i class="hB"></i><i class="hB"></i><i class="hB"></i><i class="hB"></i><i class="hB"></i><i class="hT"></i><i class="hg"></i><i class="ht"></i><i class="hT"></i><i class="hB"></i><i class="hB"></i><i class="hT"></i><i class="hT"></i><i class="hb"></i><i class="hc"></i><i class="hc"></i><i class="ht"></i><i class="hG"></i><i class="hB"></i><i class="hg"></i><i class="hl"></i><i class="hB"></i><i class="hc"></i><i class="hB"></i><i class="hb"></i><i class="hb"></i><i class="hb"></i><i class="hb"></i><i class="hc"></i><i class="hB"></i><i class="hB"></i><i class="hT"></i><i class="hB"></i><i class="hB"></i><i class="hb"></i><i class="ht"></i><i class="hc"></i>
<i class="ht"></i><i class="hG"></i><i class="hd"></i><i class="hR"></i><i class="hR"></i><i class="hR"></i><i class="hR"></i><i class="hR"></i><i class="hR"></i><i class="hR"></i><i class="hR"></i><i class="hR"></i><i class="hR"></i><i class="hR"></i><i class="hR"></i><i class="hR"></i><i class="hR"></i><i class="hR"></i><i class="hR"></i><i class="hO"></i><i class="hR"></i><i class="hd"></i><i class="hR"></i><i class="hR"></i><i class="hR"></i><i class="hR"></i><i class="hR"></i><i class="hR"></i><i class="hR"></i><i class="hR"></i><i class="hR"></i><i class="hR"></i><i class="hR"></i><i class="hR"></i><i class="hR"></i><i class="hR"></i><i class="hR"></i><i class="hR"></i><i class="hR"></i><i class="hR"></i><i class="hR"></i><i class="hR"></i><i class="hR"></i><i class="hR"></i><i class="hd"></i><i class="he"></i><i class="hR"></i><i class="hR"></i><i class="hR"></i><i class="hR"></i><i class="hR"></i><i class="hR"></i><i class="hR"></i><i class="hR"></i><i class="hR"></i><i class="hR"></i><i class="hR"></i><i class="hR"></i><i class="hR"></i><i class="hR"></i><i class="hR"></i><i class="hR"></i>
<i class="hR"></i><i class="hR"></i><i class="hR"></i><i class="hR"></i><i class="hR"></i><i class="hR"></i><i class="hR"></i><i class="hR"></i><i class="hR"></i><i class="hR"></i><i class="hR"></i><i class="hR"></i><i class="hR"></i><i class="hR"></i><i class="hR"></i><i class="hR"></i><i class="hR"></i><i class="hR"></i><i class="hR"></i><i class="hR"></i><i class="hR"></i><i class="hR"></i><i class="hR"></i><i class="hR"></i><i class="hR"></i><i class="hR"></i><i class="hR"></i><i class="hR"></i><i class="hR"></i><i class="hR"></i><i class="hR"></i><i class="hR"></i><i class="hR"></i><i class="hR"></i><i class="hR"></i><i class="hR"></i><i class="hR"></i><i class="hR"></i><i class="hR"></i><i class="hR"></i><i class="hR"></i><i class="hR"></i><i class="hR"></i><i class="hR"></i><i class="hR"></i><i class="hR"></i><i class="hR"></i><i class="hR"></i><i class="hR"></i><i class="hR"></i><i class="hR"></i><i class="hR"></i><i class="hR"></i><i class="hR"></i><i class="hR"></i><i class="hR"></i><i class="hR"></i><i class="hR"></i><i class="hR"></i><i class="hR"></i><i class="hR"></i><i class="hR"></i>
<i class="hR"></i><i class="hR"></i><i class="hR"></i><i class="hR"></i><i class="hR"></i><i class="hR"></i><i class="hR"></i><i class="hR"></i><i class="hR"></i><i class="hR"></i><i class="hR"></i><i class="hR"></i><i class="hR"></i><i class="hR"></i><i class="hR"></i><i class="hR"></i><i class="hR"></i><i class="hR"></i><i class="hR"></i><i class="hR"></i><i class="hR"></i><i class="hR"></i><i class="hR"></i><i class="hR"></i><i class="hR"></i><i class="hR"></i><i class="hR"></i><i class="hR"></i><i class="hR"></i><i class="hR"></i><i class="hR"></i><i class="hR"></i><i class="hR"></i><i class="hR"></i><i class="hR"></i><i class="hR"></i><i class="hR"></i><i class="hR"></i><i class="hR"></i><i class="hR"></i><i class="hR"></i><i class="hR"></i><i class="hR"></i><i class="hR"></i><i class="hR"></i><i class="hR"></i><i class="hR"></i><i class="hR"></i><i class="hR"></i><i class="hR"></i><i class="hR"></i><i class="hR"></i><i class="hR"></i><i class="hR"></i><i class="hR"></i><i class="hR"></i><i class="hR"></i><i class="hR"></i><i class="hR"></i><i class="hR"></i><i class="hR"></i><i class="hR"></i>
<i class="hR"></i><i class="hR"></i><i class="hR"></i><i class="hR"></i><i class="hR"></i><i class="hR"></i><i class="hR"></i><i class="hR"></i><i class="hR"></i><i class="hR"></i><i class="hR"></i><i class="hR"></i><i class="hR"></i><i class="hR"></i><i class="hR"></i><i class="hR"></i><i class="hR"></i><i class="hR"></i><i class="hR"></i><i class="hR"></i><i class="hR"></i><i class="hR"></i><i class="hR"></i><i class="hR"></i><i class="hR"></i><i class="hR"></i><i class="hR"></i><i class="hR"></i><i class="hR"></i><i class="hR"></i><i class="hR"></i><i class="hR"></i><i class="hR"></i><i class="hR"></i><i class="hR"></i><i class="hR"></i><i class="hR"></i><i class="hR"></i><i class="hR"></i><i class="hR"></i><i class="hR"></i><i class="hR"></i><i class="hR"></i><i class="hR"></i><i class="hR"></i><i class="hR"></i><i class="hR"></i><i class="hR"></i><i class="hR"></i><i class="hR"></i><i class="hR"></i><i class="hR"></i><i class="hR"></i><i class="hR"></i><i class="hR"></i><i class="hR"></i><i class="hR"></i><i class="hR"></i><i class="hR"></i><i class="hR"></i><i class="hR"></i><i class="hR"></i>
<i class="hR"></i><i class="hR"></i><i class="hR"></i><i class="hR"></i><i class="hR"></i><i class="hR"></i><i class="hR"></i><i class="hR"></i><i class="hR"></i><i class="hR"></i><i class="hR"></i><i class="hR"></i><i class="hR"></i><i class="hR"></i><i class="hR"></i><i class="hR"></i><i class="hR"></i><i class="hR"></i><i class="hR"></i><i class="hR"></i><i class="hR"></i><i class="hR"></i><i class="hR"></i><i class="hR"></i><i class="hR"></i><i class="hR"></i><i class="hR"></i><i class="hR"></i><i class="hR"></i><i class="hR"></i><i class="hR"></i><i class="hR"></i><i class="hR"></i><i class="hR"></i><i class="hR"></i><i class="hR"></i><i class="hR"></i><i class="hR"></i><i class="hR"></i><i class="hR"></i><i class="hR"></i><i class="hR"></i><i class="hR"></i><i class="hR"></i><i class="hR"></i><i class="hR"></i><i class="hR"></i><i class="hR"></i><i class="hR"></i><i class="hR"></i><i class="hR"></i><i class="hR"></i><i class="hR"></i><i class="hR"></i><i class="hR"></i><i class="hR"></i><i class="hR"></i><i class="hR"></i><i class="hR"></i><i class="hR"></i><i class="hR"></i><i class="hR"></i>
<i class="hR"></i><i class="hR"></i><i class="hR"></i><i class="hR"></i><i class="hR"></i><i class="hR"></i><i class="hR"></i><i class="hR"></i><i class="hR"></i><i class="hR"></i><i class="hR"></i><i class="hR"></i><i class="hR"></i><i class="hR"></i><i class="hR"></i><i class="hR"></i><i class="hR"></i><i class="hR"></i><i class="hR"></i><i class="hR"></i><i class="hR"></i><i class="hR"></i><i class="hR"></i><i class="hR"></i><i class="hR"></i><i class="hR"></i><i class="hR"></i><i class="hR"></i><i class="hR"></i><i class="hR"></i><i class="hR"></i><i class="hR"></i><i class="hR"></i><i class="hR"></i><i class="hR"></i><i class="hR"></i><i class="hR"></i><i class="hR"></i><i class="hR"></i><i class="hR"></i><i class="hR"></i><i class="hR"></i><i class="hR"></i><i class="hR"></i><i class="hR"></i><i class="hR"></i><i class="hR"></i><i class="hR"></i><i class="hR"></i><i class="hR"></i><i class="hR"></i><i class="hR"></i><i class="hR"></i><i class="hR"></i><i class="hR"></i><i class="hR"></i><i class="hR"></i><i class="hR"></i><i class="hR"></i><i class="hR"></i><i class="hR"></i><i class="hR"></i>
<i class="hR"></i><i class="hR"></i><i class="hR"></i><i class="hR"></i><i class="hR"></i><i class="hR"></i><i class="hR"></i><i class="hR"></i><i class="hR"></i><i class="hR"></i><i class="hR"></i><i class="hR"></i><i class="hR"></i><i class="hR"></i><i class="hR"></i><i class="hR"></i><i class="hR"></i><i class="hR"></i><i class="hR"></i><i class="hR"></i><i class="hR"></i><i class="hR"></i><i class="hR"></i><i class="hR"></i><i class="hR"></i><i class="hR"></i><i class="hR"></i><i class="hR"></i><i class="hR"></i><i class="hR"></i><i class="hR"></i><i class="hR"></i><i class="hR"></i><i class="hR"></i><i class="hR"></i><i class="hR"></i><i class="hR"></i><i class="hR"></i><i class="hR"></i><i class="hR"></i><i class="hR"></i><i class="hR"></i><i class="hR"></i><i class="hR"></i><i class="hR"></i><i class="hR"></i><i class="hR"></i><i class="hR"></i><i class="hR"></i><i class="hR"></i><i class="hR"></i><i class="hR"></i><i class="hR"></i><i class="hR"></i><i class="hR"></i><i class="hR"></i><i class="hR"></i><i class="hR"></i><i class="hR"></i><i class="hR"></i><i class="hR"></i><i class="hR"></i>
<i class="hR"></i><i class="hR"></i><i class="hR"></i><i class="hR"></i><i class="hR"></i><i class="hR"></i><i class="hR"></i><i class="hR"></i><i class="hR"></i><i class="hR"></i><i class="hR"></i><i class="hR"></i><i class="hR"></i><i class="hR"></i><i class="hR"></i><i class="hR"></i><i class="hR"></i><i class="hR"></i><i class="hR"></i><i class="hR"></i><i class="hR"></i><i class="hR"></i><i class="hR"></i><i class="hR"></i><i class="hR"></i><i class="hR"></i><i class="hR"></i><i class="hR"></i><i class="hR"></i><i class="hR"></i><i class="hR"></i><i class="hR"></i><i class="hR"></i><i class="hR"></i><i class="hR"></i><i class="hR"></i><i class="hR"></i><i class="hR"></i><i class="hR"></i><i class="hR"></i><i class="hR"></i><i class="hR"></i><i class="hR"></i><i class="hR"></i><i class="hR"></i><i class="hR"></i><i class="hR"></i><i class="hR"></i><i class="hR"></i><i class="hR"></i><i class="hR"></i><i class="hR"></i><i class="hR"></i><i class="hR"></i><i class="hR"></i><i class="hR"></i><i class="hR"></i><i class="hR"></i><i class="hR"></i><i class="hR"></i><i class="hR"></i><i class="hR"></i>
<i class="hR"></i><i class="hR"></i><i class="hR"></i><i class="hR"></i><i class="hR"></i><i class="hR"></i><i class="hR"></i><i class="hR"></i><i class="hR"></i><i class="hR"></i><i class="hR"></i><i class="hR"></i><i class="hR"></i><i class="hR"></i><i class="hR"></i><i class="hR"></i><i class="hR"></i><i class="hR"></i><i class="hR"></i><i class="hR"></i><i class="hR"></i><i class="hR"></i><i class="hR"></i><i class="hR"></i><i class="hR"></i><i class="hR"></i><i class="hR"></i><i class="hR"></i><i class="hR"></i><i class="hR"></i><i class="hR"></i><i class="hR"></i><i class="hR"></i><i class="hR"></i><i class="hR"></i><i class="hR"></i><i class="hR"></i><i class="hR"></i><i class="hR"></i><i class="hR"></i><i class="hR"></i><i class="hR"></i><i class="hR"></i><i class="hR"></i><i class="hR"></i><i class="hR"></i><i class="hR"></i><i class="hR"></i><i class="hR"></i><i class="hR"></i><i class="hR"></i><i class="hR"></i><i class="hR"></i><i class="hR"></i><i class="hR"></i><i class="hR"></i><i class="hR"></i><i class="hR"></i><i class="hR"></i><i class="hR"></i><i class="hR"></i><i class="hR"></i>
<i class="hR"></i><i class="hR"></i><i class="hR"></i><i class="hR"></i><i class="hR"></i><i class="hR"></i><i class="hR"></i><i class="hR"></i><i class="hR"></i><i class="hR"></i><i class="hR"></i><i class="hR"></i><i class="hR"></i><i class="hR"></i><i class="hR"></i><i class="hR"></i><i class="hR"></i><i class="hR"></i><i class="hR"></i><i class="hR"></i><i class="hR"></i><i class="hR"></i><i class="hR"></i><i class="hR"></i><i class="hR"></i><i class="hR"></i><i class="hR"></i><i class="hR"></i><i class="hR"></i><i class="hR"></i><i class="hR"></i><i class="hR"></i><i class="hR"></i><i class="hR"></i><i class="hR"></i><i class="hR"></i><i class="hR"></i><i class="hR"></i><i class="hR"></i><i class="hR"></i><i class="hR"></i><i class="hR"></i><i class="hR"></i><i class="hR"></i><i class="hR"></i><i class="hR"></i><i class="hR"></i><i class="hR"></i><i class="hR"></i><i class="hR"></i><i class="hR"></i><i class="hR"></i><i class="hR"></i><i class="hR"></i><i class="hR"></i><i class="hR"></i><i class="hR"></i><i class="hR"></i><i class="hR"></i><i class="hR"></i><i class="hR"></i><i class="hR"></i>
<i class="hR"></i><i class="hR"></i><i class="hR"></i><i class="hR"></i><i class="hR"></i><i class="hR"></i><i class="hR"></i><i class="hR"></i><i class="hR"></i><i class="hR"></i><i class="hR"></i><i class="hR"></i><i class="hR"></i><i class="hR"></i><i class="hR"></i><i class="hR"></i><i class="hR"></i><i class="hR"></i><i class="hR"></i><i class="hR"></i><i class="hR"></i><i class="hR"></i><i class="hR"></i><i class="hR"></i><i class="hR"></i><i class="hR"></i><i class="hR"></i><i class="hR"></i><i class="hR"></i><i class="hR"></i><i class="hR"></i><i class="hR"></i><i class="hR"></i><i class="hR"></i><i class="hR"></i><i class="hR"></i><i class="hR"></i><i class="hR"></i><i class="hR"></i><i class="hR"></i><i class="hR"></i><i class="hR"></i><i class="hR"></i><i class="hR"></i><i class="hR"></i><i class="hR"></i><i class="hR"></i><i class="hR"></i><i class="hR"></i><i class="hR"></i><i class="hR"></i><i class="hR"></i><i class="hR"></i><i class="hR"></i><i class="hR"></i><i class="hR"></i><i class="hR"></i><i class="hR"></i><i class="hR"></i><i class="hR"></i><i class="hR"></i><i class="hR"></i>
<i class="hR"></i><i class="hR"></i><i class="hR"></i><i class="hR"></i><i class="hR"></i><i class="hR"></i><i class="hR"></i><i class="hR"></i><i class="hR"></i><i class="hR"></i><i class="hR"></i><i class="hR"></i><i class="hR"></i><i class="hR"></i><i class="hR"></i><i class="hR"></i><i class="hR"></i><i class="hR"></i><i class="hR"></i><i class="hR"></i><i class="hR"></i><i class="hR"></i><i class="hR"></i><i class="hR"></i><i class="hR"></i><i class="hR"></i><i class="hR"></i><i class="hR"></i><i class="hR"></i><i class="hR"></i><i class="hR"></i><i class="hR"></i><i class="hR"></i><i class="hR"></i><i class="hR"></i><i class="hR"></i><i class="hR"></i><i class="hR"></i><i class="hR"></i><i class="hR"></i><i class="hR"></i><i class="hR"></i><i class="hR"></i><i class="hR"></i><i class="hR"></i><i class="hR"></i><i class="hR"></i><i class="hR"></i><i class="hR"></i><i class="hR"></i><i class="hR"></i><i class="hR"></i><i class="hR"></i><i class="hR"></i><i class="hR"></i><i class="hR"></i><i class="hR"></i><i class="hR"></i><i class="hR"></i><i class="hR"></i><i class="hR"></i><i class="hR"></i>
<i class="hR"></i><i class="hR"></i><i class="hR"></i><i class="hR"></i><i class="hR"></i><i class="hR"></i><i class="hR"></i><i class="hR"></i><i class="hR"></i><i class="hR"></i><i class="hR"></i><i class="hR"></i><i class="hR"></i><i class="hR"></i><i class="hR"></i><i class="hR"></i><i class="hR"></i><i class="hR"></i><i class="hR"></i><i class="hR"></i><i class="hR"></i><i class="hR"></i><i class="hR"></i><i class="hR"></i><i class="hR"></i><i class="hR"></i><i class="hR"></i><i class="hR"></i><i class="hR"></i><i class="hR"></i><i class="hR"></i><i class="hR"></i><i class="hR"></i><i class="hR"></i><i class="hR"></i><i class="hR"></i><i class="hR"></i><i class="hR"></i><i class="hR"></i><i class="hR"></i><i class="hR"></i><i class="hR"></i><i class="hR"></i><i class="hR"></i><i class="hR"></i><i class="hR"></i><i class="hR"></i><i class="hR"></i><i class="hR"></i><i class="hR"></i><i class="hR"></i><i class="hR"></i><i class="hR"></i><i class="hR"></i><i class="hR"></i><i class="hR"></i><i class="hR"></i><i class="hR"></i><i class="hR"></i><i class="hR"></i><i class="hR"></i><i class="hR"></i>
</div>
</div></div>
<svg style="position:absolute;left:879px;top:195.3px;width:32px;height:32px" viewBox="0 0 32 32"><path d="M2.6 7.6H28.6M2.6 16H28.6M2.6 24.4H28.6" fill="none" stroke="#fff" stroke-width="2" stroke-linecap="round" stroke-linejoin="round" stroke-width="1.9" stroke-linecap="butt"/></svg>
<svg class="ic" style="top:267.9px" viewBox="0 0 32 32" ><g fill="none" stroke="#fff" stroke-width="2" stroke-linecap="round" stroke-linejoin="round"><circle cx="15.8" cy="16" r="12.7"/><path d="M15.8 14.6V21.6"/></g><circle cx="15.8" cy="10.6" r="1.5" fill="#fff"/></svg>
<svg class="ic" style="top:340.4px" viewBox="0 0 32 32" ><g fill="none" stroke="#fff" stroke-width="2" stroke-linecap="round" stroke-linejoin="round" stroke-width="1.9"><path d="M15.4 8.4H30.6"/><path d="M3 8.7l2.7 2.7l5.4 -6.3"/><path d="M15.4 15.4H30.6"/><path d="M3 15.7l2.7 2.7l5.4 -6.3"/><path d="M15.4 22.5H30.6"/><path d="M3 22.8l2.7 2.7l5.4 -6.3"/></g></svg>
<svg class="ic" style="top:412.5px" viewBox="0 0 32 32" ><g fill="none" stroke="#fff" stroke-width="2" stroke-linecap="round" stroke-linejoin="round"><rect x="4.2" y="5.0" width="9.3" height="9.3" rx="2.6"/><rect x="4.2" y="19.3" width="9.3" height="9.3" rx="2.6"/><rect x="18.7" y="5.0" width="9.3" height="9.3" rx="2.6"/><rect x="18.7" y="19.3" width="9.3" height="9.3" rx="2.6"/></g></svg>
<svg class="ic" style="top:484.8px" viewBox="0 0 32 32" ><g fill="none" stroke="#fff" stroke-width="2" stroke-linecap="round" stroke-linejoin="round"><path d="M2.2 16H26.8M18 7.2L27.2 16L18 24.8M30.3 5.8V26.2"/></g></svg>
<svg class="ic" style="top:557.1px" viewBox="0 0 32 32" ><g fill="none" stroke="#fff" stroke-width="2" stroke-linecap="round" stroke-linejoin="round"><path d="M3.2 5.8V25.6M3.2 16H30M21.6 7.2L30.6 16L21.6 24.8"/></g></svg>
<svg class="ic" style="top:629.0px" viewBox="0 0 32 32" ><g fill="none" stroke="#fff" stroke-width="2" stroke-linecap="round" stroke-linejoin="round" stroke-width="1.9"><path d="M4.2 29.2L11.2 17.6L18.2 29.2M6.6 25.3H15.8"/></g><text x="12.8" y="17.6" font-family="'Noto Sans CJK SC','Noto Sans CJK JP',sans-serif" font-size="17.5" fill="#fff" stroke="#fff" stroke-width=".45">字</text></svg>
<svg class="ic" style="top:701.2px" viewBox="0 0 32 32" ><g fill="none" stroke="#fff" stroke-width="2" stroke-linecap="round" stroke-linejoin="round"><rect x="4.5" y="5.6" width="24.2" height="23.2" rx="5"/><path d="M7.5 27.3L14.6 20.2Q16.6 18.4 18.6 20.2L25.7 27.3"/><circle cx="21.7" cy="12.4" r="1.7" stroke-width="1.6"/></g></svg>
<svg class="ic" style="top:861.6px" viewBox="0 0 32 32" ><g fill="none" stroke="#fff" stroke-width="2" stroke-linecap="round" stroke-linejoin="round"><path d="M16.5 27.4H7.8Q3.8 27.4 3.8 23.4V11.9Q3.8 7.9 7.8 7.9H25.2Q29.2 7.9 29.2 11.9V13"/><path d="M8.6 14.3H16.8M8.6 21.4H14.6"/></g><circle cx="24.5" cy="19" r="6.4" fill="#fff" stroke="#202020" stroke-width="1.6"/><path d="M20.6 24.6V32L24.5 29.6L28.4 32V24.6Z" fill="#fff"/></svg>
<svg class="ic" style="top:933.8px" viewBox="0 0 32 32" ><g fill="none" stroke="#fff" stroke-width="2" stroke-linecap="round" stroke-linejoin="round"><path d="M11.2 3.2C8.2 3.2 7.4 4.6 7.4 7.2V12.4C7.4 15 6.2 16.4 4.2 16.7C6.2 17 7.4 18.4 7.4 21V26.2C7.4 28.8 8.2 30.2 11.2 30.2"/><path d="M21.6 3.2C24.6 3.2 25.4 4.6 25.4 7.2V12.4C25.4 15 26.6 16.4 28.6 16.7C26.6 17 25.4 18.4 25.4 21V26.2C25.4 28.8 24.6 30.2 21.6 30.2"/></g></svg>
<svg class="ic" style="top:1150.6px" viewBox="0 0 32 32" ><g fill="none" stroke="#fff" stroke-width="2" stroke-linecap="round" stroke-linejoin="round"><path d="M11.2 3.2C8.2 3.2 7.4 4.6 7.4 7.2V12.4C7.4 15 6.2 16.4 4.2 16.7C6.2 17 7.4 18.4 7.4 21V26.2C7.4 28.8 8.2 30.2 11.2 30.2"/><path d="M21.6 3.2C24.6 3.2 25.4 4.6 25.4 7.2V12.4C25.4 15 26.6 16.4 28.6 16.7C26.6 17 25.4 18.4 25.4 21V26.2C25.4 28.8 24.6 30.2 21.6 30.2"/></g></svg>
<svg class="ic" style="top:1005.9px" viewBox="0 0 32 32" ><g fill="none" stroke="#fff" stroke-width="2" stroke-linecap="round" stroke-linejoin="round"><path d="M7 11.9H27.4M19.8 3.6L27.8 11.9L19.8 20.2"/><path d="M26.6 23.3H6.2M14.4 15.2L5.8 23.3L14.4 31.4"/></g></svg>
<svg class="ic" style="top:1078.5px" viewBox="0 0 32 32" ><g fill="none" stroke="#fff" stroke-width="2" stroke-linecap="round" stroke-linejoin="round"><rect x="4.4" y="4.8" width="24.6" height="23.8" rx="5"/><path d="M8.4 17.2H12.4L14.9 10.6L19 24L21.4 17.2H25.4" stroke-width="1.8"/></g></svg>
<svg class="ic" style="top:1222.9px" viewBox="0 0 32 32" ><g fill="none" stroke="#fff" stroke-width="2" stroke-linecap="round" stroke-linejoin="round"><path d="M16 28.8H8.6Q4.4 28.8 4.4 24.6V9.4Q4.4 5.2 8.6 5.2H24.4Q28.6 5.2 28.6 9.4V11"/><path d="M4.6 11.2H19"/></g><circle cx="24" cy="15.9" r="4.3" fill="#fff"/><rect x="16.6" y="22" width="15" height="8.8" rx="4.4" fill="#fff"/></svg>
<svg class="ic" style="top:1295.0px" viewBox="0 0 32 32" ><g fill="none" stroke="#fff" stroke-width="2" stroke-linecap="round" stroke-linejoin="round"><rect x="6.4" y="14.8" width="20.4" height="15.4" rx="2.6"/><path d="M10.8 14.6V9.6Q10.8 3.8 16.6 3.8Q22.4 3.8 22.4 9.6V14.6"/></g><circle cx="16.6" cy="22.4" r="1.7" fill="#fff"/></svg>
<svg style="position:absolute;left:2170px;top:92px;width:200px;height:32px" viewBox="0 0 200 32"><g fill="none" stroke="#fff" stroke-width="2" stroke-linecap="round" stroke-linejoin="round" stroke-width="1.75" stroke-linecap="butt"><path d="M7.7 16.7H25.5"/><rect x="91.2" y="8.5" width="16.4" height="16.4" rx="3"/><path d="M173.6 7.9L191.4 25.1M191.4 7.9L173.6 25.1" stroke-linecap="round"/></g></svg>
<svg style="position:absolute;left:882px;top:108px;width:28px;height:32px" viewBox="0 0 28 32">
<defs><linearGradient id="tg" x1="0" y1="0" x2="1" y2="1"><stop offset="0" stop-color="#555"/><stop offset="1" stop-color="#bbb"/></linearGradient></defs>
<path d="M3.5 3L8 2.4L18 10L21 16L21.5 21L17 22L14.5 17L8.5 16.5L9 13L5 7Z" fill="url(#tg)" opacity=".85"/>
<path d="M4 24.5L12.5 20L22 24L13 29.5Z" fill="#f2f2f2"/><path d="M4 24.5L13 29.5L22 24V25.6L13 31L4 26Z" fill="#9a9a9a"/></svg>
<svg style="position:absolute;left:60px;top:1165px;width:200px;height:240px;filter:drop-shadow(0 0 .8px #fff) drop-shadow(0 0 .6px #fff)" viewBox="0 0 200 240">
<defs>
<linearGradient id="mTube" x1="0" y1="0" x2="0" y2="1"><stop offset="0" stop-color="#2a2a2a"/><stop offset=".28" stop-color="#8c8c8c"/><stop offset=".5" stop-color="#474747"/><stop offset="1" stop-color="#1c1c1c"/></linearGradient>
<linearGradient id="mMetal" x1="0" y1="0" x2="1" y2="0"><stop offset="0" stop-color="#7a7a7a"/><stop offset=".3" stop-color="#e8e8e8"/><stop offset=".6" stop-color="#a8a8a8"/><stop offset="1" stop-color="#5a5a5a"/></linearGradient>
<linearGradient id="mHead" x1="0" y1="0" x2="1" y2="1"><stop offset="0" stop-color="#8d8d8d"/><stop offset=".5" stop-color="#dcdcdc"/><stop offset="1" stop-color="#8a8a8a"/></linearGradient>
<linearGradient id="mArm" x1="0" y1="0" x2="1" y2="0"><stop offset="0" stop-color="#5c5c5c"/><stop offset=".45" stop-color="#c6c6c6"/><stop offset=".8" stop-color="#8c8c8c"/><stop offset="1" stop-color="#606060"/></linearGradient>
<linearGradient id="mBaseL" x1="0" y1="0" x2="1" y2="0"><stop offset="0" stop-color="#5e5e5e"/><stop offset=".5" stop-color="#a9a9a9"/><stop offset="1" stop-color="#7c7c7c"/></linearGradient>
<linearGradient id="mBaseR" x1="0" y1="0" x2="1" y2="0"><stop offset="0" stop-color="#f2f2f2"/><stop offset=".25" stop-color="#9a9a9a"/><stop offset="1" stop-color="#c4c4c4"/></linearGradient>
<radialGradient id="mLens" cx=".4" cy=".4" r=".7"><stop offset="0" stop-color="#9a9a9a"/><stop offset=".6" stop-color="#3a3a3a"/><stop offset="1" stop-color="#111"/></radialGradient>
<radialGradient id="mKnob" cx=".4" cy=".4" r=".7"><stop offset="0" stop-color="#d0d0d0"/><stop offset="1" stop-color="#555"/></radialGradient>
</defs>
<g stroke="#1a1a1a" stroke-width="1.3" stroke-linejoin="round">
<!-- base slab -->
<path d="M20.5 186L24 183.5L100 216L178 174.5L181 177V184.5Q181 187 178.5 188.5L104 228.5Q100 230.5 96 228.5L23 196.5Q20.5 195.5 20.5 193Z" fill="url(#mBaseL)"/>
<path d="M100 216L178 174.5L181 177V184.5Q181 187 178.5 188.5L104 228.5Q100 230.5 100 230Z" fill="url(#mBaseR)" stroke="none"/>
<path d="M21 182.5Q21 180 23.5 178.8L84 149Q88 147.5 92 149L177 170.5Q181.5 172.5 178 175.5L104 215.5Q100 217.5 96 215.5L23.5 185Q21 184 21 182.5Z" fill="#c9c9c9"/>
<!-- dark band + plate -->
<path d="M21.8 174.5L100 206.5L163 174.5V180.5L100 213L21.8 181Z" fill="#2c2c2c"/>
<path d="M100 206.5L163 174.5V177.5L100 209.5L21.8 177.5V174.5Z" fill="#e9e9e9" stroke="none"/>
<path d="M24 171.5L82 142.5Q85 141.3 88 142.5L160.5 171.5Q163.5 173.2 160.5 175L103 204.8Q100 206.3 97 204.8L24 175.2Q20.5 173.4 24 171.5Z" fill="#fafafa"/>
<!-- arm -->
<path d="M119 99L128 78L138 72.5Q150 73 158.5 83Q166 93 166.5 108L167 160L160 166L134 160L120 150Z" fill="url(#mArm)"/>
<path d="M120 101Q134 93 141 104V154L126 150V122Q119 118 120 101Z" fill="#3d3d3d" stroke="none"/>
<path d="M127.5 128Q127.500 125.500 130 126L137 127.8Q139.5 128.5 139.5 131V151.500L127.500 148.500Z" fill="#9c9c9c" stroke-width="1"/>
<path d="M141 104Q146 99 152 106V158" fill="none" stroke="#555" stroke-width="1"/>
<!-- knobs -->
<ellipse cx="118" cy="133" rx="5.5" ry="8.5" fill="#4a4a4a"/>
<ellipse cx="157.500" cy="143.500" rx="8" ry="13.500" fill="#3c3c3c"/>
<ellipse cx="164.500" cy="145.500" rx="10.500" ry="12.500" fill="#4d4d4d"/>
<ellipse cx="165.500" cy="146" rx="7.500" ry="9.500" fill="url(#mKnob)" stroke-width=".8"/>
<!-- second objective -->
<g transform="translate(70,108) rotate(28)"><rect x="-9" y="-2" width="18" height="8" fill="#555"/><rect x="-8" y="6" width="16" height="20" rx="2" fill="url(#mMetal)"/><rect x="-6" y="26" width="12" height="5" rx="2" fill="#bdbdbd"/></g>
<!-- nosepiece -->
<path d="M66 88V101Q66 106 91.500 108Q117 106 117 101V88Z" fill="url(#mMetal)"/>
<path d="M73 104.500L80 116H104L112 104.500Q92 110 73 104.500Z" fill="#3a3a3a"/>
<rect x="78.500" y="114.500" width="27.500" height="7.500" rx="1.500" fill="#5b5b5b"/>
<path d="M81 115V121.500M84 115V121.500M87 115V121.500M90 115V121.500M93 115V121.500M96 115V121.500M99 115V121.500M102 115V121.500" stroke="#222" stroke-width=".8"/>
<rect x="81.500" y="122" width="21.500" height="20" rx="2" fill="url(#mMetal)"/>
<path d="M81.500 133.500H103" stroke="#444" stroke-width=".8"/>
<path d="M84 142H100.500V144Q100.500 148.500 92.250 148.500Q84 148.500 84 144Z" fill="#cfcfcf"/>
<!-- eyepiece tubes -->
<path d="M57 76L61.500 70L78 61L95 50L91 88Z" fill="#8e8e8e"/>
<g transform="translate(26,25) rotate(51)"><rect x="0" y="-12" width="44" height="24" rx="2" fill="url(#mTube)"/><rect x="25" y="-13.500" width="6.500" height="27" rx="2" fill="#2e2e2e"/><rect x="33" y="-13" width="4" height="26" rx="2" fill="#444"/><ellipse cx="0" cy="0" rx="11.500" ry="12.700" fill="#2b2b2b"/><ellipse cx="-.5" cy="0" rx="8.600" ry="9.600" fill="#555" stroke-width=".8"/><ellipse cx="-.5" cy="0" rx="6.500" ry="7.400" fill="url(#mLens)" stroke-width=".7"/></g>
<g transform="translate(55,29.500) rotate(49)"><rect x="0" y="-13" width="58" height="26" rx="2" fill="url(#mTube)"/><rect x="24" y="-14.500" width="6.500" height="29" rx="2" fill="#2e2e2e"/><rect x="33" y="-14" width="4.500" height="28" rx="2" fill="#444"/><ellipse cx="0" cy="0" rx="12" ry="13.500" fill="#2b2b2b"/><ellipse cx="-.5" cy="0" rx="9" ry="10.300" fill="#555" stroke-width=".8"/><ellipse cx="-.5" cy="0" rx="6.800" ry="8" fill="url(#mLens)" stroke-width=".7"/></g>
<!-- head -->
<path d="M91 88L95 50L101.500 47.500Q104 47 107 48.500L123.500 52L131.500 65L133.500 75Q133.800 78.500 130 80.500L115 86L100 88.500Z" fill="url(#mHead)"/>
<path d="M95 50L107 66L108 87.300" fill="none" stroke="#4a4a4a" stroke-width="1"/>
<path d="M91 88L95 50L107 66L108 87.300L100 88.500Z" fill="#5f5f5f" opacity=".6" stroke="none"/>
<path d="M107 66L131.500 65" fill="none" stroke="#777" stroke-width=".8"/>
</g>
<ellipse cx="23.500" cy="22" rx="2.200" ry="1.400" fill="#e8e8e8" transform="rotate(-30 23.500 22)"/><ellipse cx="52.500" cy="26.500" rx="2.200" ry="1.400" fill="#e8e8e8" transform="rotate(-30 52.500 26.500)"/><circle cx="28.500" cy="27.500" r="1" fill="#ddd"/><circle cx="57.500" cy="32" r="1" fill="#ddd"/>
<g font-family="'Liberation Sans',sans-serif" font-weight="bold" font-size="9.900" fill="#1e1e1e">
<text transform="translate(78,158) matrix(.93 .37 -.42 .62 0 0)" letter-spacing=".35">01101010</text>
<text transform="translate(69,165.300) matrix(.93 .37 -.42 .62 0 0)" letter-spacing=".35">10011100</text>
<text transform="translate(60,172.500) matrix(.93 .37 -.42 .62 0 0)" letter-spacing=".35">10100111</text>
<text transform="translate(63.500,185.300) matrix(.93 .37 -.42 .62 0 0)" letter-spacing=".35">011</text>
</g>
</svg>
<div class="t" id="brand" style="left:107.00px;top:72.6px;font-size:22.0px;line-height:22.0px;letter-spacing:1.416px;font-weight:bold;color:#0563c4;text-decoration:underline;text-decoration-thickness:2px;text-underline-offset:2px">MICROSCO-PE</div>
<div class="t" id="h1a" style="left:108.40px;top:143.5px;font-size:78.5px;line-height:78.5px;letter-spacing:2.174px;font-weight:bold;color:#151c2c;-webkit-text-stroke:2.3px #151c2c">Visualize entropy</div>
<div class="t" id="h1b" style="left:107.10px;top:237.2px;font-size:78.5px;line-height:78.5px;letter-spacing:0.357px;font-weight:bold;color:#151c2c;-webkit-text-stroke:2.3px #151c2c">across the</div>
<div class="t" id="h1c" style="left:106.00px;top:311.1px;font-size:78.5px;line-height:78.5px;letter-spacing:3.400px;font-weight:bold;color:#151c2c;-webkit-text-stroke:2.3px #151c2c">entire file</div>
<div class="t" id="p1" style="left:108.30px;top:435.2px;font-size:30.3px;line-height:30.3px;letter-spacing:0.461px;font-style:italic;color:#6a7b92">A color-coded heatmap showing entropy</div>
<div class="t" id="p2" style="left:106.00px;top:475.9px;font-size:30.3px;line-height:30.3px;letter-spacing:0.581px;font-style:italic;color:#6a7b92">distribution block by block. Instantly identify</div>
<div class="t" id="p3" style="left:107.00px;top:516.7px;font-size:30.3px;line-height:30.3px;letter-spacing:-0.089px;font-style:italic;color:#6a7b92">packed, encrypted, or compressed regions.</div>
<div class="t" id="b1" style="left:137.40px;top:567.1px;font-size:29.4px;line-height:29.4px;letter-spacing:0.606px;font-weight:bold;color:#2d3a4e">Per-block entropy heatmap visualization</div>
<div class="t" id="b2" style="left:137.00px;top:632.7px;font-size:29.4px;line-height:29.4px;letter-spacing:0.468px;font-weight:bold;color:#2d3a4e">Per-section entropy bars and overall</div>
<div class="t" id="b2b" style="left:136.90px;top:672.3px;font-size:29.4px;line-height:29.4px;letter-spacing:-0.559px;font-weight:bold;color:#2d3a4e">score</div>
<div class="t" id="b3" style="left:137.00px;top:721.7px;font-size:29.4px;line-height:29.4px;letter-spacing:0.610px;font-weight:bold;color:#2d3a4e">High entropy flags packing or</div>
<div class="t" id="b3b" style="left:136.90px;top:762.0px;font-size:29.4px;line-height:29.4px;letter-spacing:0.694px;font-weight:bold;color:#2d3a4e">encryption</div>
<div class="t" id="b4" style="left:137.00px;top:824.8px;font-size:29.4px;line-height:29.4px;letter-spacing:0.395px;font-weight:bold;color:#2d3a4e">Low entropy reveals unused or zeroed</div>
<div class="t" id="b4b" style="left:136.90px;top:865.5px;font-size:29.4px;line-height:29.4px;letter-spacing:0.720px;font-weight:bold;color:#2d3a4e">data</div>
<div class="t" id="title" style="left:928.90px;top:114.6px;font-size:20.5px;line-height:20.5px;letter-spacing:0.647px;color:#fff">Microsco-PE — mspaint.exe</div>
<div class="t" id="n0" style="left:939.20px;top:274.8px;font-size:24.3px;line-height:24.3px;letter-spacing:-0.008px;color:#fff">Overview</div>
<div class="t" id="n1" style="left:938.20px;top:347.3px;font-size:24.3px;line-height:24.3px;letter-spacing:-0.074px;color:#fff">Headers</div>
<div class="t" id="n2" style="left:938.20px;top:419.4px;font-size:24.3px;line-height:24.3px;letter-spacing:0.114px;color:#fff">Sections</div>
<div class="t" id="n3" style="left:938.20px;top:491.7px;font-size:24.3px;line-height:24.3px;letter-spacing:0.830px;color:#fff">Imports</div>
<div class="t" id="n4" style="left:938.20px;top:564.0px;font-size:24.3px;line-height:24.3px;letter-spacing:-0.063px;color:#fff">Exports</div>
<div class="t" id="n5" style="left:938.20px;top:635.9px;font-size:24.3px;line-height:24.3px;letter-spacing:0.229px;color:#fff">Strings</div>
<div class="t" id="n6" style="left:938.20px;top:708.1px;font-size:24.3px;line-height:24.3px;letter-spacing:-0.518px;color:#fff">Resources</div>
<div class="t" id="n7" style="left:939.20px;top:868.5px;font-size:24.3px;line-height:24.3px;letter-spacing:0.263px;color:#fff">Certificate</div>
<div class="t" id="n8" style="left:938.20px;top:940.7px;font-size:24.3px;line-height:24.3px;letter-spacing:-0.005px;color:#fff">Rich Header</div>
<div class="t" id="n9" style="left:938.20px;top:1012.8px;font-size:24.3px;line-height:24.3px;letter-spacing:0.103px;color:#fff">Relocations</div>
<div class="t" id="n10" style="left:938.20px;top:1085.4px;font-size:24.3px;line-height:24.3px;letter-spacing:0.378px;color:#fff">Entropy</div>
<div class="t" id="n11" style="left:938.20px;top:1157.5px;font-size:24.3px;line-height:24.3px;letter-spacing:0.157px;color:#fff">Hex Viewer</div>
<div class="t" id="n12" style="left:938.20px;top:1229.8px;font-size:24.3px;line-height:24.3px;letter-spacing:-0.641px;color:#fff">.NET / CLR</div>
<div class="t" id="n13" style="left:939.20px;top:1301.9px;font-size:24.3px;line-height:24.3px;letter-spacing:-0.678px;color:#fff">TLS Callbacks</div>
<div class="t" id="adv" style="left:882.60px;top:796.3px;font-size:24.3px;line-height:24.3px;letter-spacing:0.461px;color:#cfcfcf;-webkit-text-stroke:0.7px currentColor">Advanced Analysis</div>
<div class="t" id="ea" style="left:1261.25px;top:218.5px;font-size:49.7px;line-height:49.7px;letter-spacing:0.712px;color:#fff;-webkit-text-stroke:1.3px #fff">Entropy Analysis</div>
<div class="t" id="ofe" style="left:1263.50px;top:319.6px;font-size:33.7px;line-height:33.7px;letter-spacing:1.109px;color:#cfcfcf;-webkit-text-stroke:1.05px #cfcfcf">Overall File Entropy: 7.2082 / 8.0</div>
<div class="t" id="l1" style="left:1293.50px;top:470.6px;font-size:20.5px;line-height:20.5px;letter-spacing:0.085px;color:#d0d0d0">Low (structured)</div>
<div class="t" id="l2" style="left:1499.60px;top:470.6px;font-size:20.5px;line-height:20.5px;letter-spacing:0.716px;color:#d0d0d0">Medium</div>
<div class="t" id="l3" style="left:1633.10px;top:470.6px;font-size:20.5px;line-height:20.5px;letter-spacing:0.268px;color:#d0d0d0">Normal code</div>
<div class="t" id="l4" style="left:1808.70px;top:470.6px;font-size:20.5px;line-height:20.5px;letter-spacing:0.842px;color:#d0d0d0">High</div>
<div class="t" id="l5" style="left:1911.00px;top:470.6px;font-size:20.5px;line-height:20.5px;letter-spacing:-0.138px;color:#d0d0d0">Very High (packed)</div>
<div class="t" id="ct" style="left:1286.50px;top:564.9px;font-size:24.0px;line-height:24.0px;letter-spacing:0.560px;color:#fff;-webkit-text-stroke:0.7px currentColor">File Entropy Map (4141 blocks of 1024 bytes)</div>
</body></html>
